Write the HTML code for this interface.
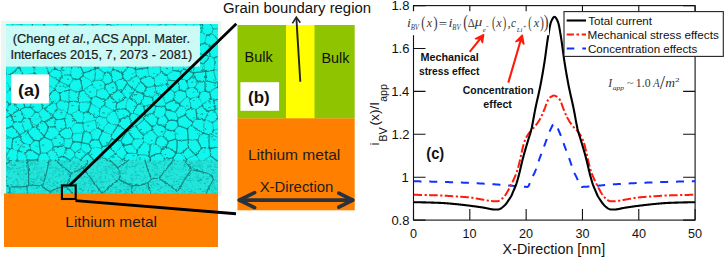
<!DOCTYPE html>
<html><head><meta charset="utf-8"><title>Grain boundary figure</title><style>
html,body{margin:0;padding:0;background:#fff;width:725px;height:258px;overflow:hidden}
svg{display:block}
text{font-family:"Liberation Sans",sans-serif}
.cal{stroke-width:0.22px}
</style></head><body>
<svg width="725" height="258" viewBox="0 0 725 258">
<rect width="725" height="258" fill="#fff"/>
<rect x="1" y="21" width="220.5" height="175" fill="#e9f7f3"/>
<rect x="6" y="24" width="212" height="170" fill="#12f7ed"/>
<defs><filter id="bl" x="-5%" y="-5%" width="110%" height="110%"><feTurbulence type="fractalNoise" baseFrequency="0.35" numOctaves="2" seed="3" result="n"/><feDisplacementMap in="SourceGraphic" in2="n" scale="2.6" xChannelSelector="R" yChannelSelector="G" result="d"/><feGaussianBlur in="d" stdDeviation="0.4"/></filter></defs>
<rect x="6" y="160" width="212" height="34" fill="#22e6dc"/>
<clipPath id="mc"><rect x="6" y="24" width="212" height="170"/></clipPath><g clip-path="url(#mc)"><g filter="url(#bl)" fill="none" stroke-linecap="round">
<path d="M103.4,186.9h0.8M192.0,167.6h0.8M61.5,181.0h0.8M200.2,179.6h0.8M155.2,163.3h0.8M187.2,180.6h0.8M57.6,182.4h0.8M52.7,183.5h0.8M195.3,173.7h0.8M75.3,186.0h0.8M132.0,178.7h0.8M29.7,193.6h0.8M64.9,161.6h0.8M64.0,165.1h0.8M61.0,160.9h0.8M72.4,164.1h0.8M86.1,165.3h0.8M40.6,179.9h0.8M158.2,163.4h0.8M213.2,176.7h0.8M18.3,168.3h0.8M205.9,179.7h0.8M173.4,193.2h0.8M26.6,171.5h0.8M160.5,188.4h0.8M80.0,186.8h0.8M136.2,164.3h0.8M81.4,178.7h0.8M58.6,170.6h0.8M169.4,180.5h0.8M203.3,191.4h0.8M18.3,174.4h0.8M78.4,163.4h0.8M209.9,168.2h0.8M30.3,173.9h0.8M81.0,192.6h0.8M9.8,189.0h0.8M34.9,183.1h0.8M119.2,176.2h0.8M182.2,179.3h0.8M122.2,185.4h0.8M188.9,170.4h0.8M129.1,166.8h0.8M90.6,184.5h0.8M178.2,172.5h0.8M118.4,192.0h0.8M140.0,171.0h0.8M201.3,179.6h0.8M155.8,174.1h0.8M127.6,189.8h0.8M197.8,180.6h0.8M154.2,171.4h0.8M154.6,175.2h0.8M73.0,161.6h0.8M28.1,174.3h0.8M168.0,190.3h0.8M10.1,191.9h0.8M152.6,184.1h0.8M61.3,191.7h0.8M68.1,174.1h0.8M138.4,175.4h0.8M109.1,185.0h0.8M27.8,169.6h0.8M209.1,165.9h0.8M74.0,168.7h0.8M77.7,172.4h0.8M215.3,177.5h0.8M210.2,166.0h0.8M176.6,181.3h0.8M150.6,185.2h0.8M194.4,165.0h0.8M133.1,166.4h0.8M161.6,175.5h0.8M205.6,186.0h0.8M150.1,188.8h0.8M80.8,181.8h0.8M113.2,164.5h0.8M155.5,192.3h0.8M33.4,178.6h0.8M77.1,166.8h0.8M89.5,166.1h0.8M190.5,163.1h0.8M129.8,163.4h0.8M20.5,189.3h0.8M93.2,183.8h0.8M216.5,180.4h0.8M197.9,181.0h0.8M10.8,178.0h0.8M135.0,187.9h0.8M24.4,184.8h0.8M90.6,186.7h0.8M170.5,179.0h0.8M120.5,190.7h0.8M53.9,185.1h0.8M189.5,162.5h0.8M216.8,185.2h0.8M135.7,171.4h0.8M163.4,160.7h0.8M55.8,171.2h0.8M64.1,184.6h0.8M106.8,170.1h0.8M170.8,163.8h0.8M50.4,186.3h0.8M41.9,180.3h0.8M139.7,188.8h0.8M108.6,166.4h0.8M156.6,186.0h0.8M124.1,170.3h0.8M200.8,160.3h0.8M36.9,183.9h0.8M75.9,184.7h0.8M58.4,192.0h0.8M15.6,179.7h0.8M23.8,184.1h0.8M98.4,164.8h0.8M165.3,164.6h0.8M59.7,170.6h0.8M69.9,193.1h0.8M202.8,177.6h0.8M48.4,179.4h0.8M56.2,190.7h0.8M16.1,180.3h0.8M46.7,177.7h0.8M13.3,172.0h0.8M217.6,179.7h0.8M75.3,185.0h0.8M197.3,165.8h0.8M117.9,177.2h0.8M39.8,176.0h0.8M181.6,186.7h0.8M35.1,179.8h0.8M139.3,190.6h0.8M101.6,184.5h0.8M85.4,186.3h0.8M53.9,189.9h0.8M136.7,192.0h0.8M212.6,190.2h0.8M179.8,179.0h0.8M211.7,184.7h0.8M54.5,171.5h0.8M166.1,186.2h0.8M208.5,185.7h0.8M199.4,170.7h0.8M23.0,178.5h0.8M190.9,191.7h0.8M126.0,173.4h0.8M207.0,161.5h0.8M43.1,187.3h0.8M38.6,168.0h0.8M120.2,183.9h0.8M126.6,169.1h0.8M77.1,175.0h0.8M102.0,169.1h0.8M89.7,173.5h0.8M17.8,182.9h0.8M30.6,184.6h0.8M36.3,187.0h0.8M112.4,176.8h0.8M167.9,165.6h0.8M45.7,184.2h0.8M44.6,191.3h0.8M199.7,166.7h0.8M51.3,177.4h0.8M92.0,191.9h0.8M156.9,184.5h0.8M159.8,191.5h0.8M202.1,167.2h0.8M50.0,164.4h0.8M63.2,161.0h0.8M200.1,180.0h0.8M80.5,170.1h0.8M155.3,165.6h0.8M116.5,189.3h0.8M52.7,191.7h0.8M211.3,169.5h0.8M72.2,174.3h0.8M74.2,168.3h0.8M103.6,187.5h0.8M171.3,166.1h0.8M112.0,170.5h0.8M105.9,166.9h0.8M65.7,189.7h0.8M82.0,191.0h0.8M129.8,167.5h0.8M197.8,185.3h0.8M179.9,171.3h0.8M69.1,176.1h0.8M91.6,191.9h0.8M23.7,189.1h0.8M9.8,188.5h0.8M16.0,178.8h0.8M170.8,188.0h0.8M111.3,190.3h0.8M76.2,184.0h0.8M142.3,183.6h0.8M212.6,170.3h0.8M21.8,174.5h0.8M189.2,161.4h0.8M207.0,189.8h0.8M9.9,163.8h0.8M200.0,183.4h0.8M115.8,192.2h0.8M82.7,174.0h0.8M149.7,160.7h0.8M95.2,183.9h0.8M47.7,165.2h0.8M60.1,168.8h0.8M80.6,177.2h0.8M79.6,171.0h0.8M117.8,171.8h0.8M189.1,188.1h0.8M208.6,176.0h0.8M67.2,162.0h0.8M131.7,184.9h0.8M163.6,165.6h0.8M207.5,187.9h0.8M177.3,187.5h0.8M157.7,189.5h0.8M46.7,189.2h0.8M44.2,187.5h0.8M193.1,168.6h0.8M216.8,181.6h0.8M190.0,180.7h0.8M42.2,176.5h0.8M114.6,187.9h0.8M72.0,163.0h0.8M102.8,191.8h0.8M115.5,167.7h0.8M6.0,177.5h0.8M28.5,171.6h0.8M207.1,167.0h0.8M49.7,162.7h0.8M72.0,190.1h0.8M172.9,183.9h0.8M192.3,167.2h0.8M183.7,185.6h0.8M205.2,190.8h0.8M191.1,190.3h0.8M168.8,191.0h0.8M131.5,192.3h0.8M139.4,169.0h0.8M67.5,181.9h0.8M150.7,163.9h0.8M152.1,181.3h0.8M19.5,188.1h0.8M100.7,162.5h0.8M190.4,164.3h0.8M89.4,168.1h0.8M40.4,179.5h0.8M33.6,161.7h0.8M39.5,182.9h0.8M49.4,182.4h0.8M214.6,180.5h0.8M69.9,167.9h0.8M49.1,162.2h0.8M69.5,181.7h0.8M80.2,189.1h0.8M9.5,190.5h0.8M112.0,184.4h0.8M36.7,167.2h0.8M145.4,178.3h0.8M202.1,172.6h0.8M74.5,182.5h0.8M160.5,161.6h0.8M114.0,165.4h0.8M76.7,176.9h0.8M58.7,169.6h0.8M115.9,189.5h0.8M60.7,176.4h0.8M190.9,172.5h0.8M11.2,164.4h0.8M157.0,183.6h0.8M86.5,177.3h0.8M119.5,186.0h0.8M99.5,181.9h0.8M85.5,167.2h0.8M126.8,165.7h0.8M166.2,176.8h0.8M142.5,167.5h0.8M39.7,186.3h0.8M186.7,190.3h0.8M182.1,169.1h0.8M109.1,193.3h0.8M127.5,189.4h0.8M34.0,169.6h0.8M27.0,192.6h0.8M75.3,166.5h0.8M188.6,169.6h0.8M123.3,173.2h0.8M92.1,181.2h0.8M41.3,191.8h0.8M123.7,193.4h0.8M97.4,172.7h0.8M200.8,168.5h0.8M54.6,160.9h0.8M181.8,166.5h0.8M62.8,173.0h0.8M34.1,181.5h0.8M30.9,181.0h0.8M27.7,161.8h0.8M119.8,192.0h0.8M144.7,161.9h0.8M10.1,169.5h0.8M61.4,163.3h0.8M214.4,172.6h0.8M213.7,166.4h0.8M158.4,162.4h0.8M37.3,174.6h0.8M165.5,177.1h0.8M127.9,187.8h0.8M210.5,186.9h0.8M114.9,168.8h0.8M152.8,164.7h0.8M208.2,186.0h0.8M153.9,185.3h0.8M104.9,190.7h0.8M112.3,167.7h0.8M26.5,192.6h0.8M37.8,175.9h0.8M213.4,166.7h0.8M213.1,170.2h0.8M156.1,166.0h0.8M75.1,188.7h0.8M101.7,192.4h0.8M82.3,190.8h0.8M75.5,187.1h0.8M192.1,162.6h0.8M175.6,191.6h0.8M127.6,185.0h0.8M110.3,164.2h0.8M39.7,173.2h0.8M188.0,187.8h0.8M96.7,193.6h0.8M173.2,181.2h0.8M78.7,164.1h0.8M126.4,184.0h0.8M48.6,162.4h0.8M96.9,185.1h0.8M49.6,181.5h0.8M106.5,163.8h0.8M181.5,189.4h0.8M15.0,165.2h0.8M125.7,167.0h0.8M158.6,175.5h0.8M98.7,190.4h0.8M97.9,175.3h0.8M8.1,167.2h0.8M156.3,193.5h0.8M118.2,166.3h0.8M94.7,191.3h0.8M99.5,187.8h0.8M98.9,179.0h0.8M31.2,169.7h0.8M218.0,174.1h0.8M83.2,180.6h0.8M148.9,162.6h0.8M184.0,177.5h0.8M50.8,192.3h0.8M100.3,179.8h0.8M33.3,181.6h0.8M126.3,167.7h0.8M24.2,170.8h0.8M196.6,171.7h0.8M195.2,183.6h0.8M53.3,170.7h0.8M8.3,178.9h0.8M7.7,188.2h0.8M74.0,192.5h0.8M162.9,170.3h0.8M90.0,181.5h0.8M100.3,178.0h0.8M60.9,176.6h0.8M159.8,177.2h0.8M88.0,181.9h0.8M157.2,189.7h0.8M67.4,189.4h0.8M120.8,180.2h0.8M37.5,191.5h0.8M163.4,169.6h0.8M188.7,170.2h0.8M92.1,165.5h0.8M109.5,174.3h0.8M211.0,161.0h0.8M142.9,167.7h0.8M91.6,179.2h0.8M163.5,181.5h0.8M113.9,173.1h0.8M110.3,188.4h0.8M36.1,169.1h0.8M69.1,175.0h0.8M92.0,177.3h0.8M28.9,183.5h0.8M35.0,167.8h0.8M137.7,187.2h0.8M193.8,165.0h0.8M114.9,175.5h0.8M32.6,169.9h0.8M91.8,190.9h0.8M202.0,193.5h0.8M152.1,162.6h0.8M125.5,174.0h0.8M174.9,191.0h0.8M23.0,167.2h0.8M64.4,184.4h0.8M211.6,161.7h0.8M202.7,173.3h0.8M51.8,167.2h0.8M182.8,169.1h0.8M191.7,164.3h0.8M136.1,178.6h0.8M74.6,171.4h0.8M176.9,175.3h0.8M25.0,174.0h0.8M87.5,166.4h0.8M147.7,161.9h0.8M6.8,166.5h0.8M124.7,172.5h0.8M200.9,183.8h0.8M51.2,160.2h0.8M146.9,187.5h0.8M112.6,171.6h0.8M106.7,171.8h0.8M34.4,165.9h0.8M130.9,175.1h0.8M189.7,178.6h0.8M12.4,189.9h0.8M170.1,184.3h0.8M79.4,183.5h0.8M167.4,177.0h0.8M209.3,176.2h0.8M95.7,181.7h0.8M182.1,192.2h0.8M32.7,179.5h0.8M102.5,182.2h0.8M108.1,166.7h0.8M125.6,183.2h0.8M69.2,176.8h0.8M69.1,161.6h0.8M75.1,174.9h0.8M143.2,178.9h0.8M57.6,168.7h0.8M151.1,169.9h0.8M189.1,176.3h0.8M117.4,172.0h0.8M77.6,174.3h0.8M72.8,181.4h0.8M20.7,170.5h0.8M177.4,161.4h0.8M84.4,164.3h0.8M30.2,165.4h0.8M198.9,164.1h0.8M182.4,190.4h0.8M109.0,167.8h0.8M115.2,191.8h0.8M197.7,161.2h0.8M45.5,188.8h0.8M134.0,190.3h0.8M115.6,172.3h0.8M100.7,171.5h0.8M136.7,175.2h0.8M37.3,185.6h0.8M27.3,182.0h0.8M176.2,181.4h0.8M189.6,173.5h0.8M104.9,192.9h0.8M27.1,173.1h0.8M170.0,186.0h0.8M170.6,166.9h0.8M210.7,160.3h0.8M49.1,178.6h0.8M150.8,185.2h0.8M6.9,167.1h0.8M14.5,165.3h0.8M33.2,193.0h0.8M135.5,188.2h0.8M51.6,186.2h0.8M53.3,182.2h0.8M128.8,166.4h0.8M41.7,188.2h0.8M103.4,174.2h0.8M137.1,175.8h0.8M207.9,172.2h0.8M39.5,172.7h0.8M174.9,167.6h0.8M106.7,173.7h0.8M82.6,168.9h0.8M39.9,171.4h0.8M99.2,183.7h0.8M184.1,178.3h0.8M33.2,189.0h0.8M155.4,167.9h0.8M82.8,186.4h0.8M204.1,172.1h0.8M196.3,162.1h0.8M211.4,172.7h0.8M96.2,166.6h0.8M10.7,184.8h0.8M43.0,181.4h0.8M138.4,186.9h0.8M103.4,166.7h0.8M205.8,173.2h0.8M92.7,169.5h0.8M89.9,179.6h0.8M76.3,185.2h0.8M155.9,175.5h0.8M135.1,171.7h0.8M120.5,170.8h0.8M124.7,191.6h0.8M113.7,179.5h0.8M100.0,176.9h0.8M81.6,189.9h0.8M6.8,171.2h0.8M97.2,170.7h0.8M175.2,189.6h0.8M205.9,193.7h0.8M83.9,162.1h0.8M172.3,162.0h0.8M201.6,170.2h0.8M63.4,171.0h0.8M49.5,189.1h0.8M61.8,164.6h0.8M17.3,181.6h0.8M19.1,184.8h0.8M182.3,162.2h0.8M92.1,172.2h0.8M117.9,178.8h0.8M76.6,191.0h0.8M209.0,170.3h0.8M12.4,168.3h0.8M59.0,174.3h0.8M84.7,183.0h0.8M7.4,176.3h0.8M10.7,193.4h0.8M46.5,187.3h0.8M127.5,186.3h0.8M198.0,189.4h0.8M208.2,187.1h0.8M83.9,189.9h0.8M22.5,160.8h0.8M22.8,164.6h0.8M207.5,166.9h0.8M83.9,188.1h0.8M37.8,177.6h0.8M83.6,177.6h0.8M135.3,164.3h0.8M12.5,181.6h0.8M207.4,164.9h0.8M64.2,181.4h0.8M66.3,177.5h0.8M131.9,185.4h0.8M130.5,191.5h0.8M132.3,180.5h0.8M17.9,182.6h0.8M202.1,165.8h0.8M164.3,187.0h0.8M208.6,178.2h0.8M75.5,168.5h0.8M188.4,191.5h0.8M115.3,165.3h0.8M9.0,189.4h0.8M139.9,171.0h0.8M199.8,165.6h0.8M127.6,192.7h0.8M23.7,162.1h0.8M194.8,189.7h0.8M71.0,176.5h0.8M161.9,167.6h0.8M86.7,183.6h0.8M119.5,163.3h0.8M170.6,168.7h0.8M66.8,168.0h0.8M24.5,182.2h0.8M146.5,186.2h0.8M165.1,170.6h0.8M23.1,193.7h0.8M169.4,171.8h0.8M119.5,176.5h0.8M54.6,185.9h0.8M21.0,179.3h0.8M99.2,187.9h0.8M214.9,167.1h0.8M196.5,166.1h0.8M133.5,166.6h0.8M179.6,164.4h0.8M212.7,173.9h0.8M31.3,185.9h0.8M104.5,168.2h0.8M192.5,166.0h0.8M49.3,193.6h0.8M14.0,171.0h0.8M28.2,192.9h0.8M84.6,176.5h0.8M64.8,162.4h0.8M76.5,192.1h0.8M160.0,188.0h0.8M190.3,161.7h0.8M11.3,165.3h0.8M167.3,180.0h0.8M171.2,185.9h0.8M14.3,187.9h0.8M149.9,190.3h0.8M210.5,162.4h0.8M200.1,180.5h0.8M191.7,180.3h0.8M69.1,176.4h0.8M185.7,189.7h0.8M54.4,181.4h0.8M142.8,184.6h0.8M159.1,177.3h0.8M113.1,172.5h0.8M153.1,183.1h0.8M96.4,168.0h0.8M14.3,172.3h0.8M105.0,176.6h0.8M176.5,192.5h0.8M203.5,176.5h0.8M23.3,165.3h0.8M78.9,161.1h0.8M116.3,192.5h0.8M51.3,172.8h0.8M82.7,166.0h0.8M212.8,183.6h0.8M179.1,169.0h0.8M202.8,192.2h0.8M10.6,162.6h0.8M215.2,164.5h0.8M216.5,176.1h0.8M146.9,171.2h0.8M67.4,172.4h0.8M158.6,184.5h0.8M68.2,183.8h0.8M62.6,167.4h0.8M13.0,186.9h0.8M167.8,167.8h0.8M38.0,182.5h0.8M217.2,190.5h0.8M55.6,181.5h0.8M137.7,163.9h0.8M88.1,187.9h0.8M198.2,177.4h0.8M114.1,172.8h0.8M196.4,180.8h0.8M32.3,162.8h0.8M22.1,161.4h0.8M91.4,163.5h0.8M57.8,160.1h0.8M70.9,165.5h0.8M142.7,189.9h0.8M16.1,185.7h0.8M109.0,174.7h0.8M28.4,180.1h0.8M85.3,171.9h0.8M44.0,160.8h0.8M117.6,175.8h0.8M171.3,185.3h0.8M145.8,185.3h0.8M89.6,179.9h0.8M109.8,191.7h0.8M17.7,185.7h0.8M133.0,185.9h0.8M29.0,165.9h0.8M80.7,167.1h0.8M149.3,187.7h0.8M77.1,183.5h0.8M125.5,192.8h0.8M187.6,164.6h0.8M132.0,160.9h0.8M28.8,181.2h0.8M65.7,168.0h0.8M115.3,160.6h0.8M130.1,189.1h0.8M50.6,165.8h0.8M143.5,166.5h0.8M206.5,160.1h0.8M121.5,170.9h0.8M213.5,182.9h0.8M56.3,191.2h0.8M73.3,163.1h0.8M123.4,163.9h0.8M25.8,180.1h0.8M206.1,170.0h0.8M106.9,188.6h0.8M87.8,190.8h0.8M142.8,190.0h0.8M27.0,180.1h0.8M129.4,183.2h0.8M147.9,188.5h0.8M63.4,183.8h0.8M53.1,180.5h0.8M88.4,180.7h0.8M71.5,166.4h0.8M62.9,174.2h0.8M171.8,170.0h0.8M34.0,184.2h0.8M113.2,187.6h0.8M117.1,173.4h0.8M120.1,191.9h0.8M190.0,164.9h0.8M214.1,185.2h0.8M156.3,193.5h0.8M26.5,177.5h0.8M136.3,183.7h0.8M28.1,170.0h0.8M194.5,177.0h0.8M84.1,176.6h0.8M53.5,183.1h0.8M114.4,180.1h0.8M85.3,165.3h0.8M45.3,179.4h0.8M184.6,166.3h0.8M71.6,185.9h0.8M79.8,189.4h0.8M184.6,191.8h0.8M114.7,187.3h0.8M161.6,187.0h0.8M160.1,176.0h0.8M30.3,193.0h0.8M19.2,167.9h0.8M131.8,163.1h0.8M192.0,163.6h0.8M60.7,181.8h0.8M14.9,165.1h0.8M118.4,182.5h0.8M114.4,178.4h0.8M159.6,161.7h0.8M141.8,163.3h0.8M112.6,168.8h0.8M182.0,179.0h0.8M185.7,174.0h0.8M68.1,179.5h0.8M41.5,186.6h0.8M94.5,174.2h0.8M113.0,176.9h0.8M40.7,184.3h0.8M201.7,164.3h0.8M161.0,180.6h0.8M92.6,191.7h0.8M92.3,190.5h0.8M28.4,166.9h0.8M145.1,183.7h0.8M184.8,186.2h0.8M170.5,170.0h0.8M143.1,177.4h0.8M37.1,176.4h0.8M27.3,187.1h0.8M101.6,182.3h0.8M154.1,184.7h0.8M156.2,174.2h0.8M22.7,169.8h0.8M6.3,183.9h0.8M133.0,160.2h0.8M177.1,184.3h0.8M121.3,190.5h0.8M79.5,188.5h0.8M189.8,174.1h0.8M96.8,180.2h0.8M31.1,178.5h0.8M154.8,164.6h0.8M63.4,179.3h0.8M60.9,165.6h0.8M133.9,179.0h0.8M100.0,165.7h0.8M53.1,192.2h0.8M112.7,176.2h0.8M98.9,177.5h0.8M72.6,193.1h0.8M100.3,181.7h0.8M131.6,175.8h0.8M111.3,190.6h0.8M9.8,189.4h0.8M76.0,178.8h0.8M120.6,183.3h0.8M175.0,179.4h0.8M131.5,179.5h0.8M171.3,190.7h0.8M136.0,165.0h0.8M134.5,175.4h0.8M165.5,184.4h0.8M31.3,163.7h0.8M215.3,188.0h0.8M115.3,165.3h0.8M36.7,160.7h0.8M95.3,181.2h0.8M202.1,191.4h0.8M54.2,164.1h0.8M214.2,187.7h0.8M61.7,168.0h0.8M217.4,189.0h0.8M197.5,175.1h0.8M53.1,184.9h0.8M14.4,163.0h0.8M19.3,169.2h0.8M217.8,165.1h0.8M184.7,166.0h0.8M125.3,190.2h0.8M32.6,182.1h0.8M111.5,186.1h0.8M185.1,162.0h0.8M67.5,186.8h0.8M171.9,169.4h0.8M32.5,172.5h0.8M19.4,171.7h0.8M27.3,172.9h0.8M210.0,165.8h0.8M8.7,167.8h0.8M201.9,171.3h0.8M176.8,188.5h0.8M6.1,166.6h0.8M131.9,185.9h0.8M215.8,173.1h0.8M50.5,185.6h0.8M199.6,188.3h0.8M132.9,188.1h0.8M6.8,177.0h0.8M200.4,167.4h0.8M60.5,175.3h0.8M125.1,167.0h0.8M133.3,169.5h0.8M41.5,178.8h0.8M124.4,162.2h0.8M16.3,160.2h0.8M126.5,188.8h0.8M8.8,191.8h0.8M92.3,172.2h0.8M61.6,161.7h0.8M191.9,166.9h0.8M167.3,169.2h0.8M134.8,190.3h0.8M42.6,178.0h0.8M149.4,173.5h0.8M27.8,177.1h0.8M127.0,189.7h0.8M109.1,181.7h0.8M185.0,174.8h0.8M57.3,183.2h0.8M74.4,187.1h0.8M110.9,167.1h0.8M68.7,181.6h0.8M115.4,186.7h0.8M56.6,183.4h0.8M172.5,185.4h0.8M149.4,187.9h0.8M21.7,193.8h0.8M198.4,167.1h0.8M79.0,177.5h0.8M134.4,166.7h0.8M90.5,192.4h0.8M101.4,172.4h0.8M97.6,162.8h0.8M132.9,183.6h0.8M134.2,193.9h0.8M56.0,168.9h0.8M81.5,167.3h0.8M189.4,174.8h0.8M112.8,165.6h0.8M79.3,176.7h0.8M110.6,169.5h0.8M146.1,183.4h0.8M23.9,170.1h0.8M78.8,168.7h0.8M46.0,182.6h0.8M157.1,166.8h0.8M161.1,177.4h0.8M134.3,189.1h0.8M209.3,175.4h0.8M81.5,178.7h0.8M76.1,184.3h0.8M10.9,193.6h0.8M178.2,179.7h0.8M103.6,170.6h0.8M135.2,166.8h0.8M110.4,166.1h0.8M65.5,181.0h0.8M94.2,191.0h0.8M123.7,183.6h0.8M121.1,181.6h0.8M145.7,192.7h0.8M99.5,172.0h0.8M42.7,190.4h0.8M152.2,167.8h0.8M212.4,191.6h0.8M130.7,187.9h0.8M97.1,170.1h0.8M24.0,170.1h0.8M200.1,179.4h0.8M74.8,180.6h0.8M79.7,185.0h0.8M38.8,187.4h0.8M75.5,170.4h0.8M35.4,188.0h0.8M37.5,170.1h0.8M81.1,177.0h0.8M92.5,162.0h0.8M215.2,189.6h0.8M66.5,184.3h0.8M21.1,178.9h0.8M33.3,174.6h0.8M207.6,179.1h0.8M8.5,173.1h0.8M47.9,188.9h0.8M210.7,167.1h0.8M189.7,178.8h0.8M186.2,184.4h0.8M22.8,162.4h0.8M206.6,176.8h0.8M10.7,177.8h0.8M18.4,193.8h0.8M64.1,188.0h0.8M147.9,165.9h0.8M81.7,193.9h0.8M62.8,174.5h0.8M105.3,177.3h0.8M9.7,193.5h0.8M60.9,191.5h0.8M25.9,188.6h0.8M188.4,172.7h0.8M194.0,168.6h0.8M215.2,192.8h0.8M198.2,181.6h0.8M183.9,165.8h0.8M15.9,184.2h0.8M170.0,176.0h0.8M207.1,182.0h0.8M69.0,170.4h0.8M164.9,175.2h0.8M201.1,178.7h0.8M91.1,193.7h0.8M188.3,180.6h0.8M71.4,180.1h0.8M21.0,186.3h0.8M91.6,182.7h0.8M74.3,183.8h0.8M216.1,167.7h0.8M32.9,160.3h0.8M135.2,186.1h0.8M86.9,171.0h0.8M42.7,180.0h0.8M167.4,160.6h0.8M43.3,167.2h0.8M20.7,193.6h0.8M94.1,184.5h0.8M143.6,166.8h0.8M173.4,173.0h0.8M42.4,180.4h0.8M85.1,183.9h0.8M102.0,163.0h0.8M165.4,162.5h0.8M165.3,163.5h0.8M9.3,171.4h0.8M190.2,191.8h0.8M23.0,186.2h0.8M136.3,174.2h0.8M95.5,179.0h0.8M52.1,191.5h0.8M185.3,167.1h0.8M17.4,170.6h0.8M51.6,168.1h0.8M147.6,162.5h0.8M135.3,165.5h0.8M64.1,182.1h0.8M62.0,167.6h0.8M65.5,169.5h0.8M25.5,174.0h0.8M12.5,193.1h0.8M137.1,166.4h0.8M66.6,160.5h0.8M71.4,192.8h0.8M213.9,189.1h0.8M212.7,170.3h0.8M207.2,178.9h0.8M157.0,171.2h0.8M173.8,181.2h0.8M82.0,167.3h0.8M151.7,171.1h0.8M152.1,162.8h0.8M116.2,191.1h0.8M79.7,172.4h0.8M9.5,168.9h0.8M24.9,183.2h0.8M131.3,165.8h0.8M52.0,178.3h0.8M177.1,161.1h0.8M128.9,185.5h0.8M208.2,161.4h0.8M56.3,192.8h0.8M195.4,161.5h0.8M84.3,182.2h0.8M25.5,173.6h0.8M186.7,161.9h0.8M96.8,193.8h0.8M172.7,167.0h0.8M186.2,163.8h0.8M202.4,171.1h0.8M180.5,182.1h0.8M166.8,182.9h0.8M132.7,183.4h0.8M29.8,171.5h0.8M168.4,171.0h0.8M217.9,192.1h0.8M147.0,171.0h0.8M156.8,168.2h0.8M132.1,164.4h0.8M194.0,192.1h0.8M77.1,171.4h0.8M76.7,166.7h0.8M6.2,165.0h0.8M196.7,176.8h0.8M23.6,173.2h0.8M101.9,186.2h0.8M214.5,192.9h0.8M7.0,169.6h0.8M205.0,189.7h0.8M65.6,184.6h0.8M8.1,187.1h0.8M87.2,177.8h0.8M21.5,167.3h0.8M181.5,182.6h0.8M191.5,182.7h0.8M121.9,173.4h0.8M157.9,174.8h0.8M122.5,173.3h0.8M55.8,190.2h0.8M7.6,183.8h0.8M110.7,161.5h0.8M64.5,192.0h0.8M139.5,175.5h0.8M142.2,180.4h0.8M87.0,164.3h0.8M152.6,187.6h0.8M195.9,163.1h0.8M77.6,177.8h0.8M78.4,164.7h0.8M59.2,192.3h0.8M176.2,160.4h0.8M76.2,177.6h0.8M111.1,174.9h0.8M27.9,185.9h0.8M14.9,165.8h0.8M58.6,177.1h0.8M176.2,181.1h0.8M191.7,191.8h0.8M111.3,168.6h0.8M124.8,183.7h0.8M153.4,174.8h0.8M58.9,162.5h0.8M35.1,161.4h0.8M168.8,160.1h0.8M150.6,175.8h0.8M199.5,162.3h0.8M107.9,179.1h0.8M131.3,166.7h0.8M56.6,182.9h0.8M64.2,175.7h0.8M128.4,181.9h0.8M19.0,188.4h0.8M149.8,176.8h0.8M200.3,189.6h0.8M77.9,192.8h0.8M116.2,163.9h0.8M122.6,163.8h0.8M43.3,193.5h0.8M103.9,160.9h0.8M94.9,161.2h0.8M39.7,178.4h0.8M145.8,191.4h0.8M142.2,187.9h0.8M167.9,172.4h0.8M119.3,189.8h0.8M78.7,188.6h0.8M201.9,169.4h0.8M161.5,163.8h0.8M128.6,192.1h0.8M25.6,174.6h0.8M36.7,178.7h0.8M184.3,164.2h0.8M55.0,177.0h0.8M35.3,164.2h0.8M63.7,162.0h0.8M6.5,160.6h0.8M214.9,179.3h0.8M101.8,182.6h0.8M126.0,186.9h0.8M55.0,167.4h0.8M212.5,193.6h0.8M77.1,165.6h0.8M199.3,189.0h0.8M131.1,178.3h0.8M78.9,172.1h0.8M30.8,173.2h0.8M145.2,181.3h0.8M188.3,165.1h0.8M130.4,178.3h0.8M33.4,193.7h0.8M23.4,176.2h0.8M156.1,163.8h0.8M35.8,180.6h0.8M110.1,192.3h0.8M202.9,172.5h0.8M153.3,177.2h0.8M119.4,191.4h0.8M14.4,181.3h0.8M55.5,168.6h0.8M190.2,164.4h0.8M156.4,180.6h0.8M103.9,194.0h0.8M149.5,176.0h0.8M111.4,174.1h0.8M158.4,190.7h0.8M100.9,187.3h0.8M28.6,175.4h0.8M183.1,167.1h0.8M11.0,185.2h0.8M118.8,192.2h0.8M171.6,175.7h0.8M217.8,191.8h0.8M179.6,177.0h0.8M120.2,184.5h0.8M83.0,170.7h0.8M42.1,182.9h0.8M75.7,180.2h0.8M143.0,171.9h0.8M42.8,180.8h0.8M145.5,188.2h0.8M83.9,183.8h0.8M102.3,191.1h0.8M153.8,161.2h0.8M74.1,162.7h0.8M7.5,168.0h0.8M14.0,186.7h0.8M213.0,171.1h0.8M151.9,191.2h0.8M54.7,192.7h0.8M110.2,188.8h0.8M29.6,174.7h0.8M32.7,182.0h0.8M196.8,163.9h0.8M168.0,164.3h0.8M122.4,165.6h0.8M148.5,160.1h0.8M153.7,165.5h0.8M184.1,191.8h0.8M148.9,166.5h0.8M191.7,177.8h0.8M31.3,181.2h0.8M182.4,171.8h0.8M164.3,192.5h0.8M161.8,173.9h0.8M87.0,164.4h0.8M161.0,186.4h0.8M163.8,165.3h0.8M188.0,178.5h0.8M94.2,184.5h0.8M106.3,181.9h0.8M69.4,175.1h0.8M175.0,184.9h0.8M68.2,186.3h0.8M205.0,191.1h0.8M124.3,188.9h0.8M155.1,174.1h0.8M19.5,162.2h0.8M75.6,185.9h0.8M194.9,192.9h0.8M121.5,173.7h0.8M22.7,180.3h0.8M191.0,167.4h0.8M211.4,181.7h0.8M17.5,179.1h0.8M55.6,167.4h0.8M99.6,188.8h0.8M103.4,181.4h0.8M49.1,173.6h0.8M49.3,168.3h0.8M103.0,187.5h0.8M79.1,171.5h0.8M211.1,183.8h0.8M30.4,178.9h0.8M104.2,178.1h0.8M188.9,193.1h0.8M76.8,163.7h0.8M6.9,168.1h0.8M159.1,162.3h0.8M168.9,166.2h0.8M96.1,182.5h0.8M184.2,177.2h0.8M91.2,174.2h0.8M40.6,180.1h0.8M66.5,182.1h0.8M8.2,177.8h0.8M171.7,162.6h0.8M161.3,161.4h0.8M172.3,191.5h0.8M91.8,188.5h0.8M130.5,162.3h0.8M173.4,178.5h0.8M176.0,169.6h0.8M124.5,193.5h0.8M153.5,163.4h0.8M106.6,192.7h0.8M57.1,165.8h0.8M217.8,187.3h0.8M26.2,167.4h0.8M204.7,182.8h0.8M144.0,192.3h0.8M13.0,193.0h0.8M176.0,174.4h0.8M38.4,161.2h0.8M36.0,177.7h0.8M160.1,188.2h0.8M16.0,160.6h0.8M211.7,163.9h0.8M211.3,189.6h0.8M80.5,166.5h0.8M81.3,169.7h0.8M89.4,183.6h0.8M34.0,179.4h0.8M144.8,176.9h0.8M81.1,167.7h0.8M81.4,165.7h0.8M17.0,171.8h0.8M210.1,165.1h0.8M56.8,187.7h0.8M143.3,192.1h0.8M166.1,170.2h0.8M128.1,184.4h0.8M158.5,169.2h0.8M139.8,164.0h0.8M23.8,192.4h0.8M13.5,164.8h0.8M197.8,174.6h0.8M215.3,166.2h0.8M114.1,169.6h0.8M10.9,169.5h0.8M84.2,169.6h0.8M123.8,186.3h0.8M10.8,184.6h0.8M17.9,174.3h0.8M54.7,173.3h0.8M34.9,163.3h0.8M69.5,190.7h0.8M164.0,182.1h0.8M68.6,185.8h0.8M91.8,190.5h0.8M209.0,163.2h0.8M11.7,168.1h0.8M9.4,168.2h0.8M16.5,186.3h0.8M159.6,180.1h0.8M80.4,189.0h0.8M198.2,166.2h0.8M93.5,189.8h0.8M117.3,167.2h0.8M192.3,169.2h0.8M93.7,176.5h0.8M138.2,162.2h0.8M146.4,186.2h0.8M11.6,184.6h0.8M48.8,191.8h0.8M26.1,192.7h0.8M40.2,177.2h0.8M114.2,193.6h0.8M180.8,177.2h0.8M207.2,178.4h0.8M163.0,179.8h0.8M14.7,191.6h0.8M174.2,193.8h0.8M169.0,173.5h0.8M63.7,163.4h0.8M122.0,178.7h0.8M111.5,191.2h0.8M38.1,172.6h0.8M32.7,188.3h0.8M121.2,167.3h0.8M90.0,173.0h0.8M23.2,165.3h0.8M19.5,176.7h0.8M105.8,172.1h0.8M70.2,164.8h0.8M14.9,193.4h0.8M6.6,192.6h0.8M171.8,179.6h0.8M156.5,183.4h0.8M95.4,173.2h0.8M154.2,168.2h0.8M93.9,183.8h0.8M79.6,180.9h0.8M182.3,176.3h0.8M208.6,174.6h0.8M57.4,190.4h0.8M34.4,163.7h0.8M43.1,183.8h0.8M120.0,160.4h0.8M106.2,166.6h0.8M72.8,163.7h0.8M7.1,193.6h0.8M16.5,180.2h0.8M144.7,163.7h0.8M66.2,163.9h0.8M133.3,190.9h0.8M31.4,161.1h0.8M9.3,164.1h0.8M13.1,182.9h0.8M185.6,170.5h0.8M44.5,173.1h0.8M60.7,165.2h0.8M153.5,193.4h0.8M196.0,166.8h0.8M212.1,185.8h0.8M111.9,165.4h0.8M213.1,186.6h0.8M131.2,181.2h0.8M199.4,165.2h0.8M52.5,174.0h0.8M192.1,186.2h0.8M36.5,188.2h0.8M17.2,173.1h0.8M57.9,189.1h0.8M23.1,186.6h0.8M32.2,182.4h0.8M94.9,185.2h0.8M90.2,181.7h0.8M178.5,182.0h0.8M40.7,168.6h0.8M132.4,192.8h0.8M17.9,160.9h0.8M37.8,163.9h0.8M105.6,173.0h0.8M47.1,182.7h0.8M153.3,181.8h0.8M74.6,165.1h0.8M199.6,180.2h0.8M56.4,176.3h0.8M184.8,164.4h0.8M43.1,172.1h0.8M12.5,168.0h0.8M31.7,184.6h0.8M109.8,180.3h0.8M126.8,184.6h0.8M165.0,172.2h0.8M58.1,173.9h0.8M126.9,166.6h0.8M127.8,190.6h0.8M204.1,183.7h0.8M128.6,189.4h0.8M92.2,181.1h0.8M82.3,184.5h0.8M204.5,183.6h0.8M192.5,180.2h0.8M8.8,169.5h0.8M213.9,173.0h0.8M94.6,184.2h0.8M68.1,194.0h0.8M92.9,187.6h0.8M60.6,172.3h0.8M46.9,175.7h0.8M68.0,173.7h0.8M13.1,165.6h0.8M69.8,168.1h0.8M100.7,174.2h0.8M124.9,180.7h0.8M132.1,192.9h0.8M71.0,182.2h0.8M116.4,187.6h0.8M167.6,176.6h0.8M115.9,161.3h0.8M64.0,183.7h0.8M21.2,162.3h0.8M122.7,182.0h0.8M196.5,177.9h0.8M174.4,164.4h0.8M199.9,178.1h0.8M104.9,181.4h0.8M36.8,187.0h0.8M204.2,162.8h0.8M117.0,182.1h0.8M105.5,168.3h0.8M69.9,176.4h0.8M29.8,163.9h0.8M215.5,188.2h0.8M90.8,183.6h0.8M16.4,168.4h0.8M108.6,164.6h0.8M121.0,187.1h0.8M15.1,164.6h0.8M17.3,185.0h0.8M89.9,185.3h0.8M17.8,160.4h0.8M150.6,182.3h0.8M101.8,191.0h0.8M31.0,187.2h0.8M58.6,162.4h0.8M62.1,170.7h0.8M134.3,174.3h0.8M197.7,179.1h0.8M190.4,173.2h0.8M199.8,189.1h0.8M208.4,166.9h0.8M37.1,188.4h0.8M194.8,187.6h0.8M70.0,161.5h0.8M174.2,182.3h0.8M112.7,189.2h0.8M18.0,173.6h0.8M37.3,164.6h0.8M14.4,188.4h0.8M91.5,176.2h0.8M60.9,181.3h0.8M16.5,168.6h0.8M105.2,170.6h0.8M31.2,163.1h0.8M167.9,187.6h0.8M83.3,184.8h0.8M30.1,183.0h0.8M41.8,184.7h0.8M197.9,181.7h0.8M152.3,170.3h0.8M183.9,182.9h0.8M66.3,186.7h0.8M187.3,189.5h0.8M84.4,184.2h0.8M53.0,166.5h0.8M49.5,167.9h0.8M141.7,171.0h0.8M18.9,174.9h0.8M149.2,174.5h0.8M33.9,168.8h0.8M27.5,184.7h0.8M123.8,189.9h0.8M118.8,171.9h0.8M132.7,162.6h0.8M211.7,175.4h0.8M122.3,161.2h0.8M20.7,188.0h0.8M214.7,180.3h0.8M156.1,186.7h0.8M119.8,161.8h0.8M97.6,191.4h0.8M42.0,170.7h0.8M59.3,185.1h0.8M160.3,172.7h0.8M87.8,192.3h0.8M126.9,163.8h0.8M100.5,176.2h0.8M60.3,187.9h0.8M7.1,182.5h0.8M186.3,178.8h0.8M62.5,171.7h0.8M214.2,162.3h0.8M30.9,163.1h0.8M166.4,193.2h0.8M108.2,166.6h0.8M128.0,192.8h0.8M71.8,189.2h0.8M40.5,172.4h0.8M87.7,190.4h0.8M66.0,181.0h0.8M182.9,184.1h0.8M29.1,160.7h0.8M202.8,171.3h0.8M118.4,189.8h0.8M205.3,174.5h0.8M19.6,167.4h0.8M123.0,180.7h0.8M47.3,167.0h0.8M147.1,177.0h0.8M82.1,190.4h0.8M211.0,190.7h0.8M91.7,190.9h0.8M177.0,184.0h0.8M131.6,174.1h0.8M174.3,163.8h0.8M192.8,171.8h0.8M147.1,184.1h0.8M155.8,173.1h0.8M126.0,193.0h0.8M179.8,185.3h0.8M51.4,160.2h0.8M199.1,189.6h0.8M105.5,169.7h0.8M36.6,173.3h0.8M159.3,176.5h0.8M60.6,184.4h0.8M124.8,179.7h0.8M211.2,187.4h0.8M189.2,180.5h0.8M49.2,180.3h0.8M165.2,185.5h0.8M48.2,184.8h0.8M139.6,178.7h0.8M29.7,160.9h0.8M58.1,190.3h0.8M78.0,169.0h0.8M141.4,180.9h0.8M120.1,189.2h0.8M215.4,169.9h0.8M194.3,192.8h0.8M200.1,180.6h0.8M67.1,174.3h0.8M125.7,168.8h0.8M67.1,183.5h0.8M147.1,169.4h0.8" stroke="#139a93" stroke-width="0.9" opacity="0.4"/>
<path d="M32.4,24.0Q32.4,27.1 32.1,30.2M109.8,95.7Q113.3,99.3 116.8,102.8M55.1,126.7Q51.6,126.5 48.2,127.6M192.7,121.9Q188.3,119.2 185.3,114.9M211.0,98.8Q210.6,95.5 209.6,92.4M10.5,74.4Q15.6,71.2 18.9,66.2M102.3,146.8Q100.8,143.2 98.7,139.9M73.6,141.6Q71.3,144.6 70.3,148.3M37.9,51.8Q44.7,50.6 51.6,49.5M13.1,138.8Q16.6,137.5 19.7,135.3M133.7,138.9Q130.7,134.9 127.7,131.0M132.0,28.0Q131.8,27.6 131.6,27.3M95.2,53.3Q98.0,49.0 98.3,43.9M174.1,35.0Q169.6,35.1 165.0,35.2M109.9,95.2Q114.0,93.5 117.2,90.4M83.5,90.2Q82.9,90.1 82.4,90.1M153.3,113.5Q149.3,114.2 145.5,115.7M205.0,42.8Q202.1,44.2 199.0,44.6M104.7,87.9Q104.7,86.2 105.4,84.7M133.6,42.6Q133.3,45.2 131.9,47.3M215.2,109.1Q214.6,109.7 214.3,110.3M80.3,66.6Q76.8,66.6 73.4,66.0M81.2,161.0Q81.3,160.4 81.0,159.8M66.3,127.5Q62.6,129.3 59.6,132.0M19.2,109.8Q16.5,106.3 13.5,102.8M125.2,97.3Q122.1,101.6 116.8,102.8M137.7,104.2Q135.4,108.4 133.2,112.7M73.4,66.0Q72.7,61.7 71.9,57.5M11.8,148.3Q11.9,143.5 13.1,138.8M134.9,90.7Q139.2,92.4 143.4,94.2M108.7,51.2Q110.6,50.4 112.5,49.6M125.9,161.0Q124.6,160.4 123.5,159.4M97.9,68.0Q96.7,68.3 95.4,68.5M6.0,128.5Q9.1,127.9 11.8,126.3M168.2,141.4Q165.5,138.5 162.8,135.7M217.3,160.9Q213.8,158.5 210.7,155.7M15.9,161.0Q16.5,160.5 17.1,160.1M59.6,93.2Q64.2,91.0 69.3,90.0M23.7,118.0Q22.6,120.1 21.1,122.0M41.0,153.3Q39.9,154.1 39.0,155.0M81.2,142.6Q77.5,141.6 73.6,141.6M8.4,45.9Q9.0,46.1 9.6,46.5M193.6,73.2Q193.7,73.9 193.4,74.6M95.6,161.0Q95.0,160.8 94.3,160.7M210.7,24.0Q212.1,26.2 213.2,28.6M127.0,131.1Q123.7,135.9 120.7,140.9M31.3,94.9Q29.7,90.0 26.9,85.7M48.6,95.4Q51.6,92.4 54.5,89.5M173.8,99.9Q176.2,102.4 179.4,103.7M55.9,119.4Q60.2,120.1 64.2,118.4M59.8,157.6Q61.4,156.2 63.4,156.3M44.3,137.0Q44.2,136.6 44.2,136.2M92.2,138.8Q95.3,140.1 98.7,139.9M132.9,126.6Q134.7,126.7 136.4,126.5M129.5,116.3Q129.8,115.0 130.5,113.8M102.3,146.8Q105.4,146.1 108.2,144.6M123.6,38.5Q122.1,40.5 121.7,43.0M190.9,107.7Q189.0,109.1 186.7,109.8M99.9,108.6Q102.1,106.6 104.5,104.9M213.5,130.2Q212.4,132.3 211.0,134.1M210.0,148.4Q214.0,147.5 218.0,147.1M122.1,58.1Q123.5,58.9 124.8,59.8M176.8,30.6Q181.2,30.8 185.3,32.8M76.0,122.5Q73.7,118.5 71.3,114.5M122.1,58.1Q121.7,57.0 121.6,56.0M32.9,127.1Q31.1,122.9 29.9,118.6M217.8,83.5Q217.8,85.3 217.2,87.0M73.2,133.1Q72.3,135.6 71.6,138.1M86.8,153.9Q83.4,156.4 81.0,159.8M88.3,153.8Q91.2,157.3 94.3,160.7M121.7,43.0Q117.7,42.6 114.2,44.4M104.5,58.4Q101.1,63.1 97.9,68.0M112.6,81.6Q109.2,83.6 105.4,84.7M89.6,40.0Q87.1,42.6 84.9,45.5M143.7,135.4Q139.2,131.7 136.4,126.5M79.2,110.3Q79.0,106.5 78.7,102.7M180.5,71.8Q176.7,70.8 172.9,70.3M210.7,155.7Q210.3,152.1 210.0,148.4M111.1,38.4Q107.7,37.9 104.4,37.1M176.4,152.9Q176.1,153.0 175.9,153.2M104.9,58.3Q106.7,54.7 108.7,51.2M209.4,147.9Q208.8,141.4 209.2,134.8M187.3,129.0Q188.1,134.3 188.1,139.7M119.5,119.8Q124.2,117.2 129.5,116.3M162.6,95.1Q159.3,94.6 156.5,92.9M110.5,72.2Q107.7,72.8 104.8,73.0M22.1,52.8Q22.5,52.5 23.0,52.2M165.0,35.2Q166.0,40.1 167.1,45.1M175.9,153.2Q171.7,149.0 166.1,146.8M70.5,128.4Q68.4,127.9 66.3,127.5M199.9,93.0Q199.6,95.2 198.5,97.1M29.9,118.6Q26.8,118.1 23.7,118.0M60.5,70.4Q61.8,67.5 64.6,66.0M144.0,49.7Q140.5,45.6 139.9,40.2M6.0,28.9Q7.2,29.5 8.2,30.5M189.0,29.9Q189.5,29.8 189.9,29.9M201.6,31.9Q201.5,28.1 203.0,24.5M17.6,80.8Q19.3,80.5 21.0,80.6M48.2,127.6Q46.7,132.2 44.2,136.2M164.7,106.2Q160.2,106.5 155.8,106.3M176.9,140.2Q176.2,139.6 175.4,139.2M24.9,85.3Q22.6,83.3 21.0,80.6M91.2,148.3Q90.6,151.5 88.3,153.8M173.4,60.0Q172.3,61.2 171.6,62.7M180.9,153.1Q185.5,150.9 187.9,146.3M205.9,80.3Q211.5,82.6 217.6,83.3M73.0,78.7Q76.4,80.3 79.9,78.7M23.0,97.7Q20.5,96.3 17.9,94.9M128.2,37.5Q129.9,32.7 132.0,28.0M25.4,43.3Q25.1,48.0 23.0,52.2M69.3,90.0Q69.4,89.5 69.8,89.3M116.8,102.8Q115.9,106.2 116.1,109.7M196.1,109.5Q196.2,114.2 197.1,118.8M203.0,24.5Q203.4,24.3 203.7,24.0M89.3,143.9Q90.5,141.2 92.2,138.8M152.2,127.2Q148.5,122.9 144.0,119.6M104.8,100.5Q100.3,98.4 95.9,96.1M155.3,143.6Q156.0,139.9 157.8,136.6M128.2,37.5Q130.6,40.4 133.6,42.6M140.8,38.7Q140.4,39.5 139.9,40.2M196.8,139.9Q199.7,143.8 201.5,148.2M199.9,93.0Q197.7,89.9 194.6,87.6M201.5,148.2Q205.4,147.3 209.4,147.9M60.3,100.2Q60.5,96.6 59.6,93.2M64.2,118.4Q65.3,122.9 66.3,127.5M93.2,25.5Q92.5,24.8 92.0,24.0M84.9,59.7Q82.1,62.9 80.3,66.6M153.3,103.9Q152.9,100.7 152.6,97.5M88.3,153.8Q87.6,154.1 86.8,153.9M197.1,118.8Q200.7,119.3 204.2,120.1M57.9,161.0Q59.0,159.4 59.8,157.6M137.7,104.2Q138.9,103.9 140.3,103.8M21.0,80.6Q22.3,78.0 23.3,75.3M169.9,46.9Q168.5,45.9 167.1,45.1M117.7,31.9Q121.5,34.4 123.6,38.5M187.9,42.9Q191.5,41.4 195.4,41.3M59.4,81.4Q59.3,81.0 59.2,80.7M121.4,91.5Q124.9,87.6 127.3,83.0M140.8,38.7Q146.5,39.5 152.3,38.7M171.6,62.7Q166.7,64.2 161.5,63.8M168.4,53.4Q164.8,55.3 160.8,56.7M110.5,72.2Q111.9,76.8 112.6,81.6M79.6,32.0Q78.0,32.5 76.7,33.4M183.6,69.0Q188.8,70.5 193.6,73.2M92.6,81.7Q93.6,80.9 94.4,80.0M205.9,71.9Q209.8,70.8 213.7,70.1M95.4,68.6Q89.6,71.3 83.5,72.8M208.2,111.2Q204.4,109.3 202.2,105.6M205.3,90.9Q205.2,86.3 204.7,81.6M186.9,49.7Q187.6,46.4 187.9,42.9M10.3,89.4Q13.1,84.4 17.6,80.8M148.8,49.4Q149.9,43.8 152.3,38.7M23.6,30.7Q27.9,31.4 32.1,30.2M37.7,32.6Q36.0,32.1 34.2,32.4M204.7,81.6Q201.1,82.0 197.5,81.9M104.8,100.5Q105.4,102.7 104.5,104.9M125.1,48.8Q123.0,52.2 121.6,56.0M137.2,150.7Q140.1,145.7 144.2,141.6M109.8,95.7Q108.0,98.8 104.8,100.5M6.0,117.8Q8.1,116.6 10.1,115.3M152.3,38.7Q152.9,38.2 153.6,37.8M189.0,29.9Q187.3,31.5 185.3,32.8M215.2,109.1Q214.7,104.7 213.7,100.5M82.4,90.1Q82.0,84.2 79.9,78.7M9.1,59.5Q10.4,55.5 12.0,51.5M150.1,157.4Q154.7,153.4 160.8,153.4M167.0,75.2Q164.0,73.7 161.1,72.1M108.2,144.6Q111.6,149.1 115.5,153.2M137.1,153.2Q137.1,151.9 137.2,150.7M161.6,149.1Q164.0,148.3 166.1,146.8M209.9,45.9Q209.8,51.0 210.0,56.2M193.4,74.6Q195.4,78.3 197.5,81.9M112.1,138.8Q116.2,140.6 120.7,140.9M102.8,130.9Q100.2,135.2 98.7,139.9M218.0,57.1Q215.8,56.7 214.0,58.1M195.3,61.1Q199.3,62.6 203.3,64.0M52.9,116.6Q49.1,119.7 44.5,121.7M54.7,68.7Q54.4,65.8 54.6,63.0M42.7,108.7Q43.5,108.7 44.3,108.7M159.9,66.5Q160.9,65.3 161.5,63.8M96.3,117.8Q92.1,114.7 88.1,111.5M206.3,35.8Q209.1,34.9 211.6,33.4M179.7,105.0Q178.0,108.9 175.0,111.9M69.0,101.7Q73.5,100.9 78.1,101.9M168.3,120.5Q166.4,123.5 164.9,126.8M36.3,46.1Q37.1,48.8 37.6,51.6M125.7,108.9Q128.7,110.8 130.5,113.8M180.4,78.2Q183.5,80.1 187.0,81.1M102.8,130.9Q100.1,129.3 97.3,127.8M35.4,112.1Q33.4,109.0 30.1,107.2M154.1,36.7Q152.4,33.2 152.2,29.2M21.2,64.3Q20.0,65.1 18.9,66.0M153.6,53.3Q155.0,53.1 156.4,53.0M217.2,87.0Q217.6,87.6 218.0,88.0M63.4,156.3Q67.0,158.1 70.1,160.5M82.4,90.1Q81.0,91.1 79.5,91.7M145.5,115.7Q144.7,116.9 144.0,118.1M104.4,37.1Q103.1,40.4 100.6,43.0M139.6,57.3Q139.2,56.3 138.8,55.3M23.0,97.7Q27.2,96.5 31.3,94.9M183.7,62.4Q181.0,60.7 178.4,58.9M112.1,138.8Q109.8,141.4 108.2,144.6M94.3,160.7Q94.1,160.9 93.8,161.0M121.6,56.0Q117.2,52.5 112.5,49.6M160.8,153.4Q161.3,151.2 161.6,149.1M178.7,126.0Q177.8,123.6 177.2,121.1M169.0,89.6Q165.6,92.2 162.6,95.1M149.2,75.7Q144.1,75.9 140.5,79.3M15.4,34.6Q15.2,38.0 15.3,41.4M83.1,132.7Q82.7,137.6 81.4,142.4M133.6,42.6Q136.2,40.1 139.9,40.2M151.8,129.8Q151.8,128.5 152.2,127.2M104.5,58.4Q100.0,55.5 95.2,53.3M61.5,58.5Q61.2,57.4 62.1,56.6M51.1,30.9Q47.3,28.1 43.8,24.8M26.3,42.5Q28.1,42.3 29.8,42.1M127.7,131.0Q130.5,129.0 132.9,126.6M166.1,146.8Q167.5,144.2 168.2,141.4M52.9,116.6Q54.6,117.8 55.9,119.4M160.8,56.7Q158.3,55.2 156.4,53.0M179.4,103.7Q179.7,104.3 179.7,105.0M53.3,147.2Q58.3,146.0 63.5,146.3M143.9,106.4Q144.7,111.1 145.5,115.7M178.1,118.3Q177.6,119.6 177.2,121.1M35.6,74.6Q40.5,76.6 45.9,76.4M26.3,42.5Q25.8,42.8 25.4,43.3M155.8,106.3Q154.7,104.9 153.3,103.9M150.4,159.9Q150.1,158.7 150.1,157.4M210.0,56.2Q207.1,60.5 203.3,64.0M24.8,107.1Q27.4,107.9 30.1,107.2M210.0,56.2Q203.5,54.9 197.2,52.8M104.5,58.4Q104.7,58.3 104.9,58.3M21.1,122.0Q17.5,121.1 13.9,122.1M81.4,142.4Q85.3,143.8 89.3,143.9M43.3,38.9Q43.3,39.2 43.3,39.5M37.6,159.3Q32.3,160.6 26.9,159.8M175.4,139.2Q171.8,140.4 168.2,141.4M148.8,62.3Q151.4,57.9 153.6,53.3M24.8,107.1Q23.6,102.5 23.0,97.7M44.3,108.7Q48.8,106.3 52.4,102.6M185.3,114.9Q186.6,112.5 186.7,109.8M166.3,109.8Q170.7,110.5 175.0,111.9M114.7,82.5Q116.8,86.2 117.2,90.4M19.8,135.1Q16.4,130.2 11.8,126.3M148.8,62.3Q149.3,63.2 149.5,64.3M108.7,51.2Q104.4,47.4 100.6,43.0M205.3,90.9Q207.4,91.9 209.6,92.4M36.1,126.9Q40.0,131.7 44.2,136.2M36.1,126.9Q39.2,124.2 41.7,120.9M78.7,102.7Q78.4,102.3 78.1,101.9M44.5,121.7Q43.2,121.1 41.7,120.9M164.5,158.6Q169.1,159.1 173.5,157.4M203.5,133.2Q206.3,134.1 209.2,134.8M96.3,117.8Q97.7,117.1 98.8,116.1M99.9,108.6Q99.0,112.3 98.8,116.1M205.1,71.4Q205.5,71.6 205.9,71.9M173.5,157.4Q174.9,155.4 175.9,153.2M39.4,140.8Q36.7,140.3 33.9,140.5M63.5,34.8Q65.6,37.1 67.7,39.2M133.2,112.7Q131.8,113.1 130.5,113.8M186.3,161.0Q186.5,160.1 186.6,159.2M139.6,57.3Q136.8,63.0 135.2,69.0M187.9,146.3Q191.0,151.3 195.7,154.9M176.9,140.2Q177.4,146.6 176.4,152.9M79.9,78.7Q81.1,76.9 82.9,75.9M148.8,49.4Q152.0,50.3 153.6,53.3M185.3,32.8Q184.5,36.2 184.3,39.7M196.2,155.0Q198.7,151.5 201.5,148.2M9.7,149.2Q7.6,148.6 6.0,147.1M146.5,87.3Q145.1,90.8 143.4,94.2M116.1,109.7Q120.8,108.5 125.7,108.9M67.1,25.5Q65.5,30.3 63.5,34.8M113.6,111.0Q114.3,111.0 115.0,110.9M90.8,54.8Q93.0,54.0 95.2,53.3M213.7,100.5Q216.1,100.4 218.0,98.9M127.3,83.0Q130.0,87.5 134.8,89.7M43.8,24.8Q43.7,24.4 43.7,24.0M42.7,108.7Q42.4,104.9 40.9,101.5M39.4,140.8Q41.9,139.0 44.3,137.0M35.6,74.6Q35.2,73.7 34.4,73.0M107.2,159.9Q105.0,158.3 102.3,157.6M187.0,81.1Q190.8,78.4 193.4,74.6M22.9,143.3Q21.2,139.4 19.7,135.3M44.5,121.7Q47.1,124.2 48.2,127.6M13.5,102.8Q11.2,102.9 9.0,103.5M174.1,35.0Q174.7,39.0 176.8,42.4M120.7,140.9Q122.0,142.9 122.8,145.1M193.9,72.9Q199.5,72.0 205.1,71.4M168.5,80.3Q173.1,80.4 177.5,81.1M168.3,120.5Q172.8,119.7 177.2,121.1M48.4,74.4Q48.5,73.9 48.7,73.5M43.7,61.9Q46.5,61.2 48.9,59.5M211.0,134.1Q210.1,134.5 209.2,134.8M34.2,32.4Q33.0,31.5 32.1,30.2M33.9,140.5Q29.8,136.6 27.7,131.4M137.7,104.2Q134.3,100.2 129.5,98.2M127.3,83.0Q127.2,82.3 127.2,81.6M82.8,123.2Q79.4,122.9 76.0,122.5M173.8,99.9Q169.7,101.5 165.9,103.6M11.1,115.6Q10.6,115.5 10.1,115.3M131.5,144.0Q127.5,144.8 123.5,145.5M139.6,57.3Q143.7,60.7 148.8,62.3M185.3,91.4Q182.3,90.8 179.4,90.2M103.7,35.0Q98.1,33.4 93.2,30.3M149.5,64.3Q154.7,65.5 159.9,66.5M30.2,149.9Q34.8,152.0 39.0,155.0M31.0,55.3Q26.9,54.0 23.0,52.2M67.0,45.4Q71.8,46.3 76.0,48.9M39.4,140.8Q39.2,147.2 41.0,153.3M187.3,129.0Q183.2,126.9 178.7,126.0M128.2,37.5Q125.9,37.9 123.6,38.5M46.1,82.4Q46.0,79.4 45.9,76.4M140.3,103.8Q142.9,100.0 144.0,95.4M132.9,126.6Q130.1,121.8 129.5,116.3M59.2,134.1Q61.9,136.1 64.0,138.7M79.1,46.0Q77.9,47.8 76.0,48.9M140.8,38.7Q139.9,35.3 139.4,31.8M191.5,125.5Q189.1,126.8 187.3,129.0M118.2,125.2Q119.4,122.6 119.5,119.8M89.3,143.9Q89.8,146.2 91.2,148.3M169.0,89.6Q167.8,86.7 167.1,83.6M40.0,89.2Q36.3,86.1 33.4,82.2M174.3,131.0Q170.2,130.9 166.3,129.9M118.0,125.3Q114.5,130.4 111.0,135.6M148.8,156.1Q150.2,150.7 150.1,145.1M195.3,61.1Q194.0,59.2 193.0,57.2M164.9,126.8Q160.8,125.5 156.7,123.9M156.7,123.9Q157.4,121.2 157.9,118.5M71.9,57.5Q74.3,55.5 76.0,52.8M114.2,44.4Q113.1,46.9 112.5,49.6M6.0,41.0Q7.3,43.4 8.4,45.9M15.4,34.6Q19.0,33.4 22.7,32.5M113.0,69.5Q117.9,70.8 122.2,73.3M12.0,51.5Q17.1,51.5 22.1,52.8M51.3,140.0Q47.6,139.0 44.3,137.0M32.7,95.5Q33.4,97.0 33.8,98.5M180.5,71.8Q181.7,70.1 183.6,69.0M38.4,112.4Q36.9,112.1 35.4,112.1M46.1,95.2Q47.4,95.0 48.6,95.4M30.2,149.9Q27.2,150.5 25.8,153.2M164.7,106.2Q165.6,108.0 166.3,109.8M60.5,70.4Q57.4,70.1 54.7,68.7M80.3,66.6Q81.9,69.7 83.5,72.8M169.9,46.9Q172.7,47.1 175.1,45.6M205.9,80.3Q205.2,76.1 205.9,71.9M164.9,126.8Q165.3,128.5 166.3,129.9M123.5,159.4Q122.8,159.4 122.2,159.6M53.3,147.2Q53.1,147.8 52.9,148.4M123.0,78.1Q124.9,80.1 127.2,81.6M179.4,90.2Q179.4,85.4 177.5,81.1M83.4,112.8Q85.7,112.2 88.1,111.5M204.2,120.1Q204.4,119.8 204.8,119.8M10.5,74.4Q13.0,78.8 17.6,80.8M144.0,95.4Q143.8,94.8 143.4,94.2M140.7,81.9Q144.0,84.2 146.5,87.3M62.3,75.4Q60.9,78.2 59.2,80.7M51.7,49.7Q49.9,54.5 48.9,59.5M18.9,66.2Q20.8,70.9 23.3,75.3M51.1,30.9Q47.0,34.7 43.3,38.9M214.3,110.3Q211.1,109.8 208.2,111.2M40.0,89.2Q42.9,85.7 46.1,82.4M191.5,125.5Q197.3,129.5 203.2,133.3M55.5,42.7Q53.8,44.4 52.0,46.1M147.5,67.9Q141.5,68.3 135.7,69.7M144.0,49.7Q141.1,52.2 138.8,55.3M43.3,39.5Q48.3,41.8 52.0,46.1M116.5,27.2Q117.3,28.2 117.9,29.4M25.8,153.2Q21.9,152.5 18.3,150.6M203.0,24.5Q201.4,24.3 199.8,24.0M11.1,115.6Q14.6,111.9 19.2,109.8M88.9,35.4Q91.0,32.8 93.2,30.3M43.7,61.9Q47.0,67.4 48.7,73.5M20.8,110.0Q22.7,108.4 24.8,107.1M100.6,43.0Q99.5,43.5 98.3,43.9M122.2,73.3Q122.4,75.8 123.0,78.1M188.3,139.9Q188.4,143.1 187.9,146.3M116.5,27.2Q111.9,25.5 107.2,24.2M64.3,24.0Q65.5,24.2 66.8,24.6M88.1,111.5Q89.7,107.4 91.0,103.2M193.9,72.9Q193.7,73.1 193.6,73.2M127.0,131.1Q122.3,128.5 118.2,125.2M164.8,115.1Q166.9,117.5 168.3,120.5M44.3,108.7Q48.3,112.3 52.7,115.4M11.1,115.6Q12.5,118.8 13.9,122.1M129.5,98.2Q131.7,94.1 134.9,90.7M82.9,75.9Q82.9,74.3 83.5,72.8M78.1,101.9Q78.4,96.8 79.5,91.7M17.2,94.9Q17.5,95.0 17.9,94.9M156.7,123.9Q154.4,125.5 152.2,127.2M152.6,97.5Q148.1,97.0 144.0,95.4M178.1,118.3Q181.7,116.6 185.3,114.9M123.0,78.1Q118.8,80.2 114.7,82.5M154.6,85.5Q154.8,85.7 155.0,85.8M127.9,66.8Q125.5,70.5 122.2,73.3M64.6,66.0Q62.9,62.3 61.5,58.5M188.1,139.7Q182.5,140.9 176.9,140.2M123.5,145.5Q124.8,149.6 127.3,153.1M115.5,153.7Q115.5,153.4 115.5,153.2M70.3,148.3Q68.2,148.2 66.2,148.7M30.4,64.4Q32.1,66.0 33.9,67.4" stroke="#10807a" stroke-width="1.35" opacity="0.85" stroke-dasharray="5 0.8 3 1"/>
<path d="M125.2,97.3Q126.7,97.6 128.0,98.4M35.6,74.6Q35.0,78.5 33.4,82.2M186.8,96.6Q182.9,100.0 179.4,103.7M174.3,131.0Q175.9,128.0 178.7,126.0M161.6,149.1Q159.2,145.5 155.3,143.6M85.1,24.0Q83.1,25.0 81.1,26.0M13.1,138.8Q9.6,137.1 6.0,135.8M83.4,112.8Q81.0,112.0 79.2,110.3M67.1,25.5Q71.9,29.5 76.7,33.4M88.3,58.8Q91.7,63.8 95.4,68.5M174.6,92.6Q172.4,90.0 169.0,89.6M150.1,145.1Q152.7,144.1 155.3,143.6M64.6,66.0Q68.3,65.8 71.6,67.5M69.8,89.3Q69.7,87.7 69.2,86.2M57.5,108.2Q56.8,106.0 56.2,103.8M147.9,25.8Q147.6,24.9 147.6,24.0M190.9,107.7Q193.5,108.7 196.1,109.5M84.9,45.5Q81.9,45.0 79.1,46.0M217.6,83.3Q214.6,77.0 213.7,70.1M67.7,39.2Q72.7,38.3 76.2,34.7M193.2,56.0Q190.5,52.4 186.9,49.7M91.4,98.9Q91.1,100.3 90.5,101.7M76.7,33.4Q76.5,34.1 76.2,34.7M18.0,150.7Q18.2,150.7 18.3,150.6M138.1,154.9Q143.5,154.3 148.8,156.1M48.9,59.5Q52.4,60.1 54.6,63.0M136.6,54.5Q130.9,57.5 124.8,59.8M201.6,31.9Q204.3,33.4 206.3,35.8M186.8,96.6Q188.5,97.8 190.3,99.1M197.2,52.8Q197.8,48.6 199.0,44.6M31.0,55.3Q34.1,53.1 37.6,51.6M48.6,95.4Q49.5,99.5 52.4,102.6M59.2,134.1Q59.6,133.1 59.6,132.0M59.6,93.2Q57.1,91.3 54.5,89.5M111.0,135.6Q111.1,137.4 112.1,138.8M52.7,115.4Q54.8,111.6 57.5,108.2M29.8,42.1Q32.0,37.3 34.2,32.4M174.5,161.0Q173.8,159.3 173.5,157.4M13.2,24.0Q11.1,26.7 9.8,30.0M74.8,152.4Q74.5,154.4 74.7,156.5M135.2,69.0Q135.4,69.4 135.7,69.7M104.4,37.1Q104.2,36.0 103.7,35.0M180.9,153.1Q183.9,156.0 186.6,159.2M63.4,156.3Q64.6,152.5 66.2,148.7M15.3,41.4Q20.1,44.1 25.4,43.3M25.9,161.0Q26.3,160.3 26.9,159.8M213.2,28.6Q215.6,29.1 218.0,28.7M201.6,31.9Q198.5,33.3 195.2,34.1M214.0,58.1Q212.0,57.2 210.0,56.2M167.1,83.6Q161.3,86.1 155.0,85.8M95.7,161.0Q99.1,159.5 102.3,157.6M37.6,51.6Q37.7,51.7 37.9,51.8M174.3,131.0Q176.0,134.9 175.4,139.2M159.7,46.5Q163.3,45.5 167.1,45.1M30.4,64.4Q29.6,59.7 31.0,55.3M13.5,102.8Q14.9,98.6 17.2,94.9M33.8,98.5Q31.5,102.7 30.1,107.2M205.0,42.8Q207.4,44.5 209.9,45.9M124.8,59.8Q126.2,63.4 127.9,66.8M109.9,95.2Q107.6,91.3 104.7,87.9M79.6,32.0Q80.0,28.9 81.1,26.0M165.9,103.6Q163.8,99.5 162.6,95.1M90.5,101.7Q84.6,101.8 78.7,102.7M9.6,46.5Q12.7,44.2 15.3,41.4M183.7,62.4Q183.1,65.7 183.6,69.0M121.4,91.5Q123.2,94.4 125.2,97.3M29.8,144.9Q32.1,142.9 33.9,140.5M40.9,101.5Q37.1,100.7 33.8,98.5M71.6,138.1Q67.9,139.0 64.0,138.7M168.4,53.4Q171.2,56.5 173.4,60.0M69.8,89.3Q74.3,91.8 79.5,91.7M196.1,109.5Q199.2,107.6 202.2,105.6M140.5,79.3Q138.5,77.5 136.4,75.8M104.8,73.0Q103.6,76.6 102.2,80.3M121.3,161.0Q121.8,160.4 122.2,159.6M168.5,80.3Q167.6,81.8 167.1,83.6M160.8,56.7Q161.4,60.2 161.5,63.8M92.2,138.8Q91.6,135.5 89.8,132.8M209.6,92.4Q213.0,89.2 217.2,87.0M47.0,153.1Q49.7,150.5 52.9,148.4M188.3,139.9Q192.5,139.7 196.8,139.9M217.9,118.1Q215.7,121.1 212.2,122.5M123.5,145.5Q123.2,145.3 122.8,145.1M187.0,81.1Q187.8,84.6 188.4,88.0M10.5,74.4Q8.5,74.5 6.4,74.5M6.0,74.8Q6.2,74.7 6.4,74.5M118.0,125.3Q113.2,124.3 108.5,122.7M144.0,118.1Q144.2,118.8 144.0,119.6M84.9,45.5Q87.6,50.3 90.8,54.8M113.0,64.2Q117.0,60.3 122.1,58.1M193.2,56.0Q195.2,54.3 197.2,52.8M108.5,122.7Q106.7,120.6 106.4,117.8M60.3,100.2Q64.5,101.6 68.8,101.9M104.8,73.0Q101.2,70.8 97.9,68.0M68.8,101.9Q69.0,107.3 67.1,112.4M117.9,29.4Q124.7,28.0 131.6,27.3M195.0,24.0Q192.1,26.6 189.9,29.9M8.2,30.5Q9.1,30.4 9.8,30.0M74.8,152.4Q77.6,150.7 80.5,149.3M209.9,45.9Q213.9,44.1 218.0,42.4M39.0,155.0Q38.8,157.3 37.6,159.3M183.7,62.4Q188.1,59.5 193.0,57.2M186.8,96.6Q186.2,93.9 185.3,91.4M81.2,142.6Q81.5,146.0 80.5,149.3M73.6,141.6Q72.4,140.0 71.6,138.1M69.2,86.2Q64.5,83.3 59.4,81.4M153.6,37.8Q153.8,37.2 154.1,36.7M115.5,153.7Q118.5,157.0 122.2,159.6M144.0,49.7Q146.4,50.3 148.8,49.4M202.3,104.3Q202.3,105.0 202.2,105.6M82.9,123.3Q82.9,127.5 84.5,131.4M143.0,138.4Q138.3,138.9 133.7,138.9M168.4,53.4Q169.3,50.2 169.9,46.9M83.1,132.7Q83.9,132.2 84.5,131.4M211.0,98.8Q212.4,99.6 213.7,100.5M8.4,45.9Q7.2,46.2 6.0,46.7M9.1,59.5Q7.4,59.9 6.0,60.9M51.1,30.9Q51.9,31.3 52.8,31.0M190.9,107.7Q190.3,103.4 190.3,99.1M127.2,81.6Q131.7,78.6 136.4,75.8M157.8,136.6Q154.9,133.1 151.8,129.8M21.2,64.3Q22.2,58.6 22.1,52.8M25.8,153.2Q26.0,156.5 26.9,159.8M29.9,118.6Q32.8,115.5 35.4,112.1M164.9,35.1Q159.6,36.0 154.1,36.7M107.2,159.9Q111.0,156.3 115.5,153.7M29.8,42.1Q33.1,44.1 36.3,46.1M156.5,92.9Q155.5,89.4 155.0,85.8M114.7,82.5Q113.6,82.2 112.6,81.6M178.1,118.3Q176.6,115.0 175.0,111.9M83.5,90.2Q87.5,86.8 92.2,84.6M121.4,91.5Q119.3,90.8 117.2,90.4M32.7,95.5Q32.0,95.2 31.3,94.9M57.9,24.0Q55.8,27.9 52.8,31.0M198.5,97.1Q194.1,97.0 190.3,99.1M88.3,58.8Q86.5,59.1 84.9,59.7M135.7,69.7Q135.7,72.8 136.4,75.8M89.6,40.0Q93.9,42.1 98.3,43.9M156.4,53.0Q158.0,49.7 159.7,46.5M164.7,106.2Q165.4,105.0 165.9,103.6M36.3,46.1Q39.8,42.8 43.3,39.5M147.5,67.9Q148.8,66.3 149.5,64.3M113.0,69.5Q112.0,71.1 110.5,72.2M66.8,24.6Q67.0,24.3 67.2,24.0M60.3,100.2Q58.1,101.7 56.2,103.8M95.5,119.9Q95.8,124.0 97.3,127.8M25.2,131.4Q23.1,126.7 21.1,122.0M42.1,61.5Q38.5,65.1 33.9,67.4M67.7,113.7Q67.1,113.2 67.1,112.4M180.5,71.8Q180.4,75.0 180.4,78.2M106.4,117.8Q102.5,117.4 98.8,116.1M199.9,93.0Q202.5,91.7 205.3,90.9M136.4,126.5Q140.0,122.8 144.0,119.6M214.3,110.3Q216.7,114.0 217.9,118.1M56.6,36.2Q55.6,39.4 55.5,42.7M10.1,115.3Q8.3,112.8 6.7,110.3M131.5,144.0Q132.4,141.3 133.7,138.9M107.2,24.2Q106.3,29.9 103.7,35.0M131.9,47.3Q134.2,50.9 136.6,54.5M173.8,99.9Q174.1,96.2 174.6,92.6M69.0,101.7Q68.8,95.9 69.3,90.0M67.0,45.4Q66.6,45.5 66.4,45.8M139.4,31.8Q143.4,28.5 147.9,25.8M210.0,148.4Q209.7,148.1 209.4,147.9M51.3,140.0Q53.1,143.4 53.3,147.2M192.7,121.9Q192.6,123.9 191.5,125.5M102.2,80.3Q98.3,80.3 94.4,80.0M213.2,28.6Q212.5,31.0 211.6,33.4M20.8,110.0Q22.6,113.8 23.7,118.0M218.0,138.1Q214.7,135.8 211.0,134.1M166.3,129.9Q164.5,132.7 162.8,135.7M54.5,89.2Q56.5,85.0 59.4,81.4M115.0,110.9Q115.5,110.3 116.1,109.7M101.7,147.9Q101.9,147.3 102.3,146.8M137.1,153.2Q137.4,154.1 138.1,154.9M76.0,48.9Q76.1,50.9 76.0,52.8M116.5,27.2Q117.1,25.5 118.0,24.0M134.8,89.7Q137.4,85.6 140.7,81.9M9.7,149.2Q7.9,152.9 6.2,156.8M111.0,135.6Q107.3,132.7 102.9,130.9M138.8,55.3Q137.7,54.9 136.6,54.5M172.9,70.3Q172.5,66.4 171.6,62.7M174.6,24.1Q176.2,27.2 176.8,30.6M37.7,32.6Q41.9,29.5 43.8,24.8M149.4,161.0Q149.9,160.4 150.4,159.9M214.0,58.1Q215.4,64.1 213.8,70.0M95.4,68.6Q95.8,74.4 94.4,80.0M61.8,55.7Q64.1,50.7 66.4,45.8M10.3,89.7Q13.9,92.2 17.2,94.9M179.7,50.8Q177.6,48.0 175.1,45.6M51.6,49.5Q51.8,47.8 52.0,46.1M70.2,161.0Q70.2,160.7 70.1,160.5M151.4,161.0Q150.8,160.5 150.4,159.9M151.8,129.8Q147.3,131.9 143.7,135.4M62.3,75.4Q61.4,72.9 60.5,70.4M33.4,82.2Q30.0,83.7 26.9,85.7M56.6,36.2Q60.0,35.3 63.5,34.8M95.9,96.1Q96.4,93.2 97.2,90.5M208.2,111.2Q207.0,115.7 204.8,119.8M88.9,35.4Q89.5,37.6 89.6,40.0M47.0,153.1Q44.0,152.8 41.0,153.3M174.6,92.6Q176.9,91.1 179.4,90.2M125.1,48.8Q123.3,45.9 121.7,43.0M154.6,85.5Q150.8,87.5 146.5,87.3M189.9,29.9Q192.8,31.7 195.2,34.1M70.5,75.0Q71.5,77.0 73.0,78.7M84.5,131.4Q87.2,131.8 89.8,132.8M185.8,24.0Q187.3,27.0 189.0,29.9M40.0,89.4Q35.8,91.8 32.7,95.5M48.7,73.5Q51.6,71.0 54.7,68.7M51.7,49.7Q56.6,52.9 61.8,55.7M102.2,80.3Q103.8,82.5 105.4,84.7M202.3,104.3Q206.9,102.0 211.0,98.8M42.1,61.5Q42.9,61.7 43.7,61.9M90.8,54.8Q88.8,56.4 88.3,58.8M195.3,61.1Q193.1,66.8 193.9,72.9M70.1,160.5Q71.8,157.7 74.7,156.5M162.8,135.7Q160.3,136.2 157.8,136.6M91.4,98.9Q86.6,95.3 83.5,90.2M157.9,118.5Q155.5,116.1 153.3,113.5M70.5,128.4Q71.8,130.8 73.2,133.1M131.9,47.3Q128.4,47.7 125.1,48.8M84.9,59.7Q81.0,55.6 76.0,52.8M203.5,133.2Q203.9,126.7 204.2,120.1M179.7,105.0Q183.9,106.4 186.7,109.8M131.7,24.2Q131.5,25.7 131.6,27.3M9.0,103.5Q7.3,102.6 6.0,101.1M62.3,75.4Q66.4,74.5 70.5,75.0M34.4,73.0Q29.0,74.7 23.3,75.3M71.3,114.5Q69.4,114.5 67.7,113.7M70.3,148.3Q72.4,150.5 74.8,152.4M196.8,139.9Q199.2,135.8 203.2,133.3M137.1,153.2Q132.2,153.5 127.3,153.1M74.7,156.5Q77.7,158.4 81.0,159.8M109.8,95.7Q109.9,95.4 109.9,95.2M127.9,66.8Q131.7,67.6 135.2,69.0M197.5,81.9Q196.9,85.1 194.6,87.6M81.4,142.4Q81.3,142.5 81.2,142.6M52.9,148.4Q55.4,153.7 59.8,157.6M147.9,25.8Q149.9,27.6 152.2,29.2M113.0,69.5Q113.2,66.9 113.0,64.2M18.3,150.6Q20.1,146.6 22.9,143.3M45.9,76.4Q47.0,75.2 48.4,74.4M55.5,42.7Q61.3,43.0 66.4,45.8M134.8,89.7Q134.9,90.2 134.9,90.7M99.1,24.0Q96.1,24.7 93.2,25.5M218.0,160.9Q217.6,160.9 217.3,160.9M164.8,115.1Q165.6,112.4 166.3,109.8M21.6,24.7Q22.7,27.6 23.6,30.7M64.0,138.7Q64.4,142.6 63.5,146.3M153.6,78.2Q155.6,81.6 154.6,85.5M133.2,112.7Q138.6,115.2 144.0,118.1M9.7,161.0Q7.6,159.2 6.2,156.8M30.2,149.9Q30.6,147.3 29.8,144.9M153.6,78.2Q151.3,77.2 149.2,75.7M42.1,61.5Q39.1,57.0 37.9,51.8M127.3,153.1Q124.6,155.8 123.5,159.4M12.0,51.5Q11.1,48.8 9.6,46.5M176.4,152.9Q178.6,153.2 180.9,153.1M168.5,80.3Q167.7,77.8 167.0,75.2M22.7,32.5Q23.1,31.5 23.6,30.7M218.0,108.4Q216.7,109.1 215.2,109.1M153.3,103.9Q148.5,105.0 143.9,106.4M211.6,33.4Q215.7,36.2 218.0,40.6M93.2,30.3Q93.4,27.9 93.2,25.5M51.0,161.0Q49.3,156.9 47.0,153.1M17.1,160.1Q17.3,155.4 18.0,150.7M62.1,56.6Q67.0,57.2 71.9,57.5M161.1,72.1Q160.4,69.3 159.9,66.5M155.8,106.3Q155.5,110.2 153.3,113.5M165.4,24.3Q165.3,29.7 164.9,35.1M177.5,81.1Q179.0,79.7 180.4,78.2M48.4,74.4Q53.6,77.8 59.2,80.7M19.2,109.8Q20.0,110.1 20.8,110.0M6.0,110.3Q6.3,110.4 6.7,110.3M140.7,81.9Q140.5,80.6 140.5,79.3M161.6,24.0Q156.7,26.3 152.2,29.2M26.3,42.5Q24.8,37.4 22.7,32.5M79.1,46.0Q77.9,40.3 76.2,34.7M25.2,131.4Q22.3,133.0 19.8,135.1" stroke="#189089" stroke-width="1.15" opacity="0.7" stroke-dasharray="3 1 6 1.2"/>
<path d="M113.6,111.0Q108.6,112.9 106.4,117.8M186.9,49.7Q183.4,50.7 179.7,50.8M143.0,138.4Q142.9,136.7 143.7,135.4M104.7,87.9Q100.8,88.7 97.2,90.5M79.2,110.3Q74.5,111.1 71.3,114.5M128.0,98.4Q125.7,103.4 125.7,108.9M52.9,116.6Q52.8,115.9 52.7,115.4M178.4,58.9Q175.8,59.2 173.4,60.0M108.5,122.7Q104.4,125.9 102.9,130.9M17.9,94.9Q21.1,89.9 24.9,85.3M193.0,57.2Q193.2,56.6 193.2,56.0M67.7,39.2Q67.6,42.3 67.0,45.4M9.0,103.5Q8.1,107.0 6.7,110.3M26.9,85.7Q25.9,85.6 24.9,85.3M46.1,82.4Q49.9,86.3 54.5,89.2M104.5,104.9Q108.8,108.4 113.6,111.0M136.0,161.0Q137.2,158.0 138.1,154.9M149.2,75.7Q148.1,71.9 147.5,67.9M137.2,150.7Q133.8,147.8 131.5,144.0M21.2,64.3Q25.8,63.6 30.4,64.4M6.0,92.3Q8.1,90.9 10.3,89.7M8.2,30.5Q7.4,32.4 6.0,34.0M203.3,64.0Q205.3,67.4 205.1,71.4M204.7,81.6Q205.2,81.0 205.9,80.3M11.8,148.3Q14.7,150.0 18.0,150.7M95.5,119.9Q89.3,121.9 82.9,123.3M174.6,24.1Q170.0,23.3 165.4,24.3M83.1,132.7Q78.2,133.8 73.2,133.1M40.9,101.5Q44.2,98.9 46.1,95.2M218.0,129.1Q215.8,129.9 213.5,130.2M55.1,126.7Q55.3,123.0 55.9,119.4M92.6,81.7Q87.8,78.7 82.9,75.9M52.4,102.6Q54.2,103.6 56.2,103.8M212.2,122.5Q213.4,126.2 213.5,130.2M113.0,64.2Q109.4,60.7 104.9,58.3M163.6,161.0Q163.9,159.7 164.5,158.6M144.2,141.6Q146.9,143.8 150.1,145.1M16.2,24.0Q19.0,24.0 21.6,24.7M97.2,90.5Q94.6,87.6 92.2,84.6M206.3,35.8Q205.4,39.2 205.0,42.8M164.5,158.6Q162.7,155.9 160.8,153.4M95.9,96.1Q93.3,96.8 91.4,98.9M184.3,39.7Q180.7,41.4 176.8,42.4M192.7,121.9Q194.9,120.3 197.1,118.8M22.2,24.0Q21.9,24.4 21.6,24.7M144.2,141.6Q143.6,140.0 143.0,138.4M9.7,149.2Q10.8,148.8 11.8,148.3M107.2,159.9Q107.5,160.4 107.7,161.0M54.6,63.0Q58.2,60.9 61.5,58.5M164.8,115.1Q161.7,117.5 157.9,118.5M186.6,159.2Q190.7,156.1 195.7,154.9M117.9,29.4Q117.6,30.6 117.7,31.9M42.7,108.7Q40.6,110.7 38.4,112.4M91.2,148.3Q96.4,146.9 101.7,147.9M22.9,143.3Q26.4,143.7 29.8,144.9M185.3,91.4Q187.4,90.2 188.4,88.0M80.5,149.3Q83.9,151.3 86.8,153.9M184.3,39.7Q186.2,41.2 187.9,42.9M194.6,87.6Q191.5,87.1 188.4,88.0M115.5,153.2Q118.8,148.9 122.8,145.1M63.5,146.3Q64.6,147.7 66.2,148.7M202.3,104.3Q201.1,100.4 198.5,97.1M179.7,50.8Q179.0,54.8 178.4,58.9M195.2,34.1Q195.3,37.7 195.4,41.3M57.5,108.2Q62.4,110.0 67.1,112.4M91.0,103.2Q95.2,106.2 99.9,108.6M17.1,160.1Q19.2,160.4 21.2,161.0M153.6,37.8Q156.3,42.5 159.7,46.5M91.0,103.2Q90.8,102.4 90.5,101.7M10.3,89.4Q9.0,85.2 6.0,81.9M43.3,38.9Q40.6,35.6 37.7,32.6M111.1,38.4Q114.6,35.3 117.7,31.9M32.9,127.1Q30.7,129.7 27.7,131.4M38.0,160.9Q37.9,160.1 37.6,159.3M92.2,84.6Q92.5,83.2 92.6,81.7M79.6,24.0Q80.3,25.0 81.1,26.0M153.6,78.2Q157.9,75.7 161.1,72.1M32.9,127.1Q34.5,127.3 36.1,126.9M150.1,157.4Q149.4,156.8 148.8,156.1M38.4,112.4Q40.6,116.4 41.7,120.9M76.0,122.5Q73.2,125.4 70.5,128.4M69.2,86.2Q71.0,82.4 73.0,78.7M128.0,98.4Q128.8,98.3 129.5,98.2M127.0,131.1Q127.4,131.1 127.7,131.0M66.8,24.6Q66.8,25.1 67.1,25.5M199.9,161.0Q197.7,158.2 196.2,155.0M70.5,75.0Q70.9,71.3 71.6,67.5M213.8,70.0Q215.9,69.5 218.0,69.9M210.7,155.7Q206.9,158.1 203.3,161.0M176.8,42.4Q176.1,44.1 175.1,45.6M40.0,89.4Q42.1,93.3 46.1,95.2M172.9,70.3Q170.0,72.7 167.0,75.2M196.2,155.0Q195.9,155.0 195.7,154.9M82.8,123.2Q84.3,118.1 83.4,112.8M88.9,35.4Q83.9,34.6 79.6,32.0M115.0,110.9Q116.4,115.8 119.5,119.8M97.3,127.8Q93.1,129.6 89.8,132.8M176.8,30.6Q175.2,32.6 174.1,35.0M96.3,117.8Q95.8,118.8 95.5,119.9M101.7,147.9Q102.4,152.7 102.3,157.6M165.4,24.3Q165.3,24.2 165.1,24.0M64.2,118.4Q65.2,115.5 67.7,113.7M52.8,31.0Q54.3,33.9 56.6,36.2M212.2,122.5Q208.8,120.3 204.8,119.8M203.2,133.3Q203.3,133.3 203.5,133.2M18.9,66.0Q14.0,62.7 9.1,59.5M55.1,126.7Q57.2,129.5 59.6,132.0M27.7,131.4Q26.4,131.0 25.2,131.4M13.9,122.1Q13.1,124.3 11.8,126.3M71.6,67.5Q72.4,66.7 73.4,66.0M9.8,30.0Q12.7,32.2 15.4,34.6M199.0,44.6Q197.2,43.0 195.4,41.3M143.9,106.4Q142.4,104.7 140.3,103.8M34.4,73.0Q34.4,70.2 33.9,67.4M61.8,55.7Q61.9,56.2 62.1,56.6M111.1,38.4Q112.4,41.5 114.2,44.4M51.3,140.0Q55.1,136.9 59.2,134.1M139.4,31.8Q135.8,29.7 132.0,28.0M6.4,74.5Q5.4,67.8 6.0,60.9M152.6,97.5Q154.4,95.1 156.5,92.9" stroke="#1a948d" stroke-width="1.05" opacity="0.5"/>
<path d="M50.2,118.1h1.2M60.6,112.8h1.6M166.4,68.6h1.0M154.2,92.1h0.6M186.5,106.0h1.4M45.6,108.1h0.7M54.4,123.4h1.1M133.0,81.2h0.7M26.3,133.7h0.7M53.9,101.4h1.3M86.7,112.7h1.5M8.3,105.1h1.4M176.6,103.2h1.0M106.3,142.9h1.4M59.6,86.3h1.2M214.2,85.2h1.3M6.6,138.1h1.4M147.5,116.3h0.8M31.7,107.1h1.4M135.7,94.6h1.4M56.6,79.7h0.8M165.5,75.5h0.9M47.2,103.0h1.5M60.8,144.8h1.3M26.7,96.7h1.4M152.4,66.7h0.7M99.2,124.8h1.4M213.5,80.1h0.6M166.5,129.4h1.4M112.7,102.5h1.6M87.6,125.7h1.5M62.6,70.4h1.4M202.3,69.1h1.5M143.0,106.5h1.1M129.8,92.9h1.2M139.8,129.6h1.5M191.3,82.1h0.7M65.2,87.2h0.9M21.6,113.6h1.1M11.7,148.6h0.7M65.1,153.0h1.1M71.8,105.5h1.5M184.9,114.4h0.6M112.1,87.8h1.5M54.8,157.2h1.0M133.8,94.6h0.7M55.1,110.8h1.5M73.3,120.7h1.3M213.3,112.0h1.2M205.1,70.6h1.3M17.7,144.7h1.0M153.7,73.5h0.7M203.8,152.3h0.9M123.8,158.4h1.1M201.1,70.5h1.3M122.7,99.9h0.8M203.1,70.2h0.9M89.7,91.9h1.1M137.7,118.4h1.2M55.3,77.7h1.3M188.0,66.6h1.5M209.2,98.5h1.0M133.0,155.6h1.1M198.9,80.7h1.6M197.5,117.8h0.8M63.1,86.2h0.9M153.2,112.1h1.3M198.4,133.8h1.2M192.0,77.6h1.4M157.0,74.6h0.7M211.4,148.0h1.0M90.9,98.2h1.4M102.9,112.9h1.3M78.3,152.4h1.5M193.7,117.9h0.8M194.8,130.3h0.8M165.0,154.5h0.7M119.0,99.2h0.8M67.7,102.3h0.9M38.6,141.0h1.0M123.2,115.6h1.1M105.2,106.7h0.9M36.1,118.7h1.1M193.3,92.3h1.1M132.3,73.8h0.6M207.2,115.5h0.8M176.8,133.8h0.9M23.2,121.8h1.0M129.2,130.3h1.5M91.4,154.4h0.7M113.6,157.1h0.8M161.3,131.6h1.6M213.6,139.7h1.4M35.5,146.4h1.6M22.4,96.2h1.1M97.2,122.8h1.0M143.5,133.0h1.0M42.6,145.0h1.3M215.7,133.5h1.0M94.1,114.0h0.7M111.7,156.8h1.3M201.4,113.9h1.2M55.2,68.9h0.7M100.2,85.2h1.0M15.7,141.9h0.7M54.8,138.4h1.5M16.7,155.2h1.4M143.1,77.9h0.7M155.6,144.2h0.8M211.1,136.6h1.4M151.9,125.6h0.8M115.7,114.1h1.2M34.8,89.0h1.2M134.4,106.2h0.9M56.4,110.0h1.5M150.5,140.6h1.6M48.3,120.1h1.4M151.5,155.9h1.4M204.2,147.7h1.3M61.7,66.9h0.7M108.9,66.7h1.4M208.9,101.9h1.6M29.2,76.7h1.3M214.6,106.0h1.6M44.5,81.6h1.1M8.2,158.0h1.2M117.5,111.2h0.6M14.3,116.4h1.5M11.1,73.7h1.1M60.4,128.3h1.3M36.5,125.3h1.2M28.3,89.6h1.5M130.7,77.7h1.0M164.0,127.1h1.0M119.7,89.8h1.4M205.1,128.9h0.9M139.4,159.0h1.4M209.7,107.4h0.7M39.1,116.8h1.2M193.2,100.5h1.0M33.8,124.3h1.0M37.8,97.0h0.8M184.1,115.0h0.8M216.2,118.6h1.4M181.7,76.8h0.8M23.2,146.9h1.2M67.5,79.2h1.1M116.4,84.8h0.8M59.3,142.9h0.8M54.0,121.3h1.1" stroke="#117a74" stroke-width="1.1" opacity="0.7"/>
<path d="M109.6,160.0Q114.0,163.5 117.6,167.8M117.6,167.8Q123.5,164.4 128.7,160.0M6.0,176.2Q4.4,181.0 6.8,185.3M9.7,194.0Q9.9,190.4 9.4,186.7M27.0,194.0Q27.3,190.2 27.0,186.4M27.0,186.4Q18.2,187.3 9.4,186.7M6.8,185.3Q8.3,185.7 9.4,186.7M213.5,179.5Q211.1,173.7 205.0,172.5M72.6,194.0Q69.9,190.0 66.2,186.8M102.3,193.9Q92.7,180.9 83.1,167.8M66.2,186.8Q69.1,180.3 71.3,173.5M83.1,167.8Q77.4,171.1 71.3,173.5M132.1,194.0Q131.4,189.8 132.2,185.5M132.2,185.5Q125.4,183.0 119.0,179.6M119.0,179.6Q109.9,185.8 102.3,193.9M49.8,194.0Q50.3,192.9 50.0,191.7M50.0,191.7Q57.4,186.9 66.2,186.8M87.3,160.0Q88.1,165.5 83.1,167.8M117.6,167.8Q122.1,173.3 119.0,179.6M42.5,186.5Q47.0,173.5 49.1,160.0M42.5,186.5Q35.7,184.7 28.7,185.5M28.7,185.5Q29.2,172.7 27.4,160.0M50.0,191.7Q45.7,189.9 42.5,186.5M71.3,173.5Q63.0,167.0 55.1,160.0M27.0,186.4Q27.9,186.1 28.7,185.5M6.0,164.1Q9.1,162.2 11.9,160.0M144.9,160.0Q147.8,169.7 151.3,179.3M132.2,185.5Q140.5,186.1 148.1,182.6M148.1,182.6Q150.0,181.2 151.3,179.3M148.1,182.6Q148.0,188.7 150.9,194.0M213.5,179.5Q208.9,186.3 206.0,194.0M158.9,178.3Q168.7,184.4 177.5,191.7M158.9,178.3Q166.2,169.3 173.2,160.0M177.5,191.7Q183.8,180.1 191.5,169.4M183.6,160.0Q188.1,164.3 191.5,169.4M151.3,179.3Q155.0,178.1 158.9,178.3M178.1,194.0Q177.6,192.9 177.5,191.7M205.0,172.5Q198.2,171.1 191.5,169.4" stroke="#11726c" stroke-width="1.2" opacity="0.8"/>
<path d="M137.1,153.2h0.1M30.2,149.9h0.1M42.7,108.7h0.1M32.9,127.1h0.1M47.0,153.1h0.1M192.7,121.9h0.1M164.5,158.6h0.1M138.1,154.9h0.1M150.4,159.9h0.1M173.5,157.4h0.1M83.1,132.7h0.1M82.8,123.2h0.1M76.0,122.5h0.1M55.1,126.7h0.1M55.9,119.4h0.1M164.8,115.1h0.1M166.3,109.8h0.1M173.8,99.9h0.1M174.6,92.6h0.1M191.5,125.5h0.1M187.3,129.0h0.1M188.1,139.7h0.1M11.1,115.6h0.1M10.1,115.3h0.1M19.2,109.8h0.1M13.5,102.8h0.1M46.1,95.2h0.1M37.6,159.3h0.1M26.9,159.8h0.1M44.5,121.7h0.1M48.2,127.6h0.1M44.2,136.2h0.1M81.4,142.4h0.1M89.3,143.9h0.1M10.3,89.7h0.1M17.2,94.9h0.1M10.3,89.4h0.1M17.6,80.8h0.1M186.8,96.6h0.1M179.4,103.7h0.1M205.3,90.9h0.1M150.1,157.4h0.1M148.8,156.1h0.1M160.8,153.4h0.1M161.6,149.1h0.1M210.7,155.7h0.1M196.2,155.0h0.1M188.3,139.9h0.1M210.0,148.4h0.1M137.2,150.7h0.1M131.5,144.0h0.1M123.5,145.5h0.1M127.3,153.1h0.1M123.5,159.4h0.1M109.8,95.7h0.1M113.0,69.5h0.1M108.5,122.7h0.1M83.4,112.8h0.1M88.1,111.5h0.1M107.2,159.9h0.1M115.5,153.7h0.1M122.2,159.6h0.1M155.8,106.3h0.1M118.2,125.2h0.1M180.5,71.8h0.1M185.3,91.4h0.1M179.4,90.2h0.1M177.5,81.1h0.1M180.4,78.2h0.1M66.3,127.5h0.1M59.2,134.1h0.1M9.0,103.5h0.1M6.7,110.3h0.1M20.8,110.0h0.1M29.9,118.6h0.1M35.4,112.1h0.1M30.1,107.2h0.1M60.3,100.2h0.1M48.6,95.4h0.1M52.4,102.6h0.1M56.2,103.8h0.1M9.7,149.2h0.1M18.0,150.7h0.1M63.4,156.3h0.1M17.9,94.9h0.1M31.3,94.9h0.1M190.9,107.7h0.1M198.5,97.1h0.1M190.3,99.1h0.1M215.2,109.1h0.1M179.7,105.0h0.1M178.1,118.3h0.1M175.0,111.9h0.1M168.3,120.5h0.1M174.3,131.0h0.1M177.2,121.1h0.1M175.9,153.2h0.1M166.1,146.8h0.1M168.2,141.4h0.1M180.9,153.1h0.1M187.9,146.3h0.1M186.6,159.2h0.1M203.2,133.3h0.1M201.5,148.2h0.1M209.4,147.9h0.1M111.0,135.6h0.1M102.9,130.9h0.1M102.8,130.9h0.1M102.3,146.8h0.1M98.7,139.9h0.1M104.8,100.5h0.1M91.0,103.2h0.1M121.4,91.5h0.1M95.5,119.9h0.1M97.3,127.8h0.1M82.9,123.3h0.1M84.5,131.4h0.1M89.8,132.8h0.1M79.2,110.3h0.1M67.1,112.4h0.1M69.0,101.7h0.1M153.3,103.9h0.1M143.9,106.4h0.1M125.2,97.3h0.1M128.0,98.4h0.1M153.6,78.2h0.1M167.1,83.6h0.1M162.6,95.1h0.1M193.6,73.2h0.1M187.0,81.1h0.1M197.5,81.9h0.1M194.6,87.6h0.1M188.4,88.0h0.1M127.9,66.8h0.1M122.2,73.3h0.1M135.2,69.0h0.1M123.0,78.1h0.1M73.6,141.6h0.1M63.5,146.3h0.1M66.2,148.7h0.1M35.6,74.6h0.1M34.4,73.0h0.1M24.9,85.3h0.1M21.0,80.6h0.1M23.3,75.3h0.1M59.6,93.2h0.1M54.5,89.5h0.1M69.3,90.0h0.1M22.9,143.3h0.1M29.8,144.9h0.1M33.9,140.5h0.1M27.7,131.4h0.1M13.1,138.8h0.1M74.8,152.4h0.1M81.0,159.8h0.1M211.0,98.8h0.1M213.7,100.5h0.1M217.2,87.0h0.1M212.2,122.5h0.1M213.5,130.2h0.1M203.5,133.2h0.1M211.0,134.1h0.1M208.2,111.2h0.1M202.2,105.6h0.1M197.1,118.8h0.1M204.2,120.1h0.1M204.8,119.8h0.1M205.1,71.4h0.1M205.9,71.9h0.1M213.7,70.1h0.1M213.8,70.0h0.1M112.1,138.8h0.1M164.9,126.8h0.1M166.3,129.9h0.1M162.8,135.7h0.1M143.0,138.4h0.1M133.7,138.9h0.1M127.7,131.0h0.1M98.8,116.1h0.1M91.4,98.9h0.1M90.5,101.7h0.1M83.5,90.2h0.1M78.7,102.7h0.1M104.8,73.0h0.1M97.9,68.0h0.1M95.4,68.5h0.1M109.9,95.2h0.1M117.2,90.4h0.1M154.6,85.5h0.1M155.0,85.8h0.1M140.7,81.9h0.1M146.5,87.3h0.1M137.7,104.2h0.1M140.3,103.8h0.1M134.9,90.7h0.1M143.4,94.2h0.1M115.0,110.9h0.1M119.5,119.8h0.1M125.7,108.9h0.1M149.2,75.7h0.1M147.5,67.9h0.1M140.5,79.3h0.1M136.4,75.8h0.1M33.9,67.4h0.1M69.8,89.3h0.1M82.4,90.1h0.1M79.5,91.7h0.1M46.1,82.4h0.1M54.5,89.2h0.1M45.9,76.4h0.1M48.4,74.4h0.1M62.3,75.4h0.1M69.2,86.2h0.1M59.4,81.4h0.1M59.2,80.7h0.1M48.7,73.5h0.1M25.2,131.4h0.1M19.8,135.1h0.1M13.9,122.1h0.1M172.9,70.3h0.1M161.1,72.1h0.1M159.9,66.5h0.1M151.8,129.8h0.1M102.2,80.3h0.1M105.4,84.7h0.1M92.2,84.6h0.1M80.3,66.6h0.1M70.5,75.0h0.1M79.9,78.7h0.1M82.9,75.9h0.1M83.5,72.8h0.1M54.7,68.7h0.1M136.4,126.5h0.1M133.2,112.7h0.1M157.9,118.5h0.1M145.5,115.7h0.1M144.0,118.1h0.1M144.0,119.6h0.1M71.6,67.5h0.1M73.4,66.0h0.1" stroke="#0c6a65" stroke-width="1.8" opacity="0.5"/>
</g></g>
<rect x="6" y="25.6" width="194" height="41" fill="#d6fbf8" opacity="0.95"/>
<text x="12.80" y="43.3" font-size="12.6" style="" fill="#1a1a1a" stroke="#1a1a1a" class="cal" textLength="45.54" lengthAdjust="spacingAndGlyphs" xml:space="preserve">(Cheng </text>
<text x="58.34" y="43.3" font-size="12.6" style="font-style:italic;" fill="#1a1a1a" stroke="#1a1a1a" class="cal" textLength="24.19" lengthAdjust="spacingAndGlyphs" xml:space="preserve">et al</text>
<text x="82.53" y="43.3" font-size="12.6" style="" fill="#1a1a1a" stroke="#1a1a1a" class="cal" textLength="107.43" lengthAdjust="spacingAndGlyphs" xml:space="preserve">., ACS Appl. Mater.</text>
<text x="10.42" y="58.90" font-size="12.6" style='font-family:"Liberation Sans",sans-serif;' fill="#1a1a1a" textLength="181.78" lengthAdjust="spacingAndGlyphs" stroke="#1a1a1a" class="cal">Interfaces 2015, 7, 2073 - 2081)</text>
<rect x="11.2" y="74.4" width="37.7" height="29.1" fill="#fff"/>
<text x="18.10" y="95.89" font-size="16.4" style='font-family:"Liberation Sans",sans-serif;font-weight:bold;' fill="#111" textLength="21.99" lengthAdjust="spacingAndGlyphs" >(a)</text>
<rect x="4" y="193.5" width="214" height="53.5" fill="#ff8000"/>
<text x="65.33" y="227.00" font-size="15" style='font-family:"Liberation Sans",sans-serif;' fill="#1c1c1c" textLength="91.71" lengthAdjust="spacingAndGlyphs" >Lithium metal</text>
<rect x="61.9" y="185.4" width="13.8" height="13.6" fill="none" stroke="#000" stroke-width="2.1"/>
<line x1="69.5" y1="185.4" x2="236.3" y2="23.8" stroke="#000" stroke-width="2.8"/>
<line x1="75.5" y1="200.6" x2="236" y2="213.8" stroke="#000" stroke-width="2.9"/>
<rect x="237.5" y="25" width="117.2" height="93.6" fill="#8fc400"/>
<rect x="286" y="25" width="28.5" height="93.6" fill="#ffff00"/>
<rect x="237.5" y="118.4" width="117.2" height="91.9" fill="#ff8000"/>
<text x="222.96" y="12.70" font-size="14" style='font-family:"Liberation Sans",sans-serif;' fill="#111" textLength="148.03" lengthAdjust="spacingAndGlyphs" >Grain boundary region</text>
<text x="244.61" y="62.00" font-size="14.5" style='font-family:"Liberation Sans",sans-serif;' fill="#111" textLength="28.10" lengthAdjust="spacingAndGlyphs" >Bulk</text>
<text x="321.41" y="63.20" font-size="14.5" style='font-family:"Liberation Sans",sans-serif;' fill="#111" textLength="27.99" lengthAdjust="spacingAndGlyphs" >Bulk</text>
<rect x="240.4" y="82.2" width="38.7" height="28.6" fill="#fff"/>
<text x="248.05" y="102.69" font-size="16.4" style='font-family:"Liberation Sans",sans-serif;font-weight:bold;' fill="#111" textLength="21.58" lengthAdjust="spacingAndGlyphs" >(b)</text>
<text x="247.92" y="160.00" font-size="15" style='font-family:"Liberation Sans",sans-serif;' fill="#1c1c1c" textLength="92.42" lengthAdjust="spacingAndGlyphs" >Lithium metal</text>
<text x="259.66" y="192.00" font-size="15" style='font-family:"Liberation Sans",sans-serif;' fill="#1c1c1c" textLength="73.72" lengthAdjust="spacingAndGlyphs" >X-Direction</text>
<line x1="300.3" y1="81.8" x2="296.4" y2="18.5" stroke="#222" stroke-width="1.9"/>
<path d="M292.4,23.4 L296.3,17.2 L300.3,22.8" fill="none" stroke="#222" stroke-width="1.6" stroke-linejoin="miter"/>
<g stroke="#29313d" stroke-width="3.7" stroke-linecap="round" stroke-linejoin="round" fill="none">
<line x1="240" y1="200.1" x2="352.5" y2="200.1"/>
<path d="M254.6,192.6 L239.2,200.1 L254.6,207.6"/>
<path d="M338.8,193.2 L352.8,200.1 L338.8,207.2"/>
</g>
<rect x="413.5" y="5.6" width="281.6" height="214.5" fill="none" stroke="#111" stroke-width="1.1"/>
<path d="M413.50,220.1 V209.1 M413.50,5.6 V16.6 M469.82,220.1 V209.1 M469.82,5.6 V16.6 M526.14,220.1 V209.1 M526.14,5.6 V16.6 M582.46,220.1 V209.1 M582.46,5.6 V16.6 M638.78,220.1 V209.1 M638.78,5.6 V16.6 M695.10,220.1 V209.1 M695.10,5.6 V16.6 M413.5,220.10 H425.5 M695.1,220.10 H683.1 M413.5,177.20 H425.5 M695.1,177.20 H683.1 M413.5,134.30 H425.5 M695.1,134.30 H683.1 M413.5,91.40 H425.5 M695.1,91.40 H683.1 M413.5,48.50 H425.5 M695.1,48.50 H683.1 M413.5,5.60 H425.5 M695.1,5.60 H683.1" stroke="#111" stroke-width="1.1" fill="none"/>
<text x="409.99" y="237.60" font-size="12.6" style='font-family:"Liberation Sans",sans-serif;' fill="#111" >0</text>
<text x="462.59" y="237.60" font-size="12.6" style='font-family:"Liberation Sans",sans-serif;' fill="#111" >10</text>
<text x="519.07" y="237.60" font-size="12.6" style='font-family:"Liberation Sans",sans-serif;' fill="#111" >20</text>
<text x="575.47" y="237.60" font-size="12.6" style='font-family:"Liberation Sans",sans-serif;' fill="#111" >30</text>
<text x="631.88" y="237.60" font-size="12.6" style='font-family:"Liberation Sans",sans-serif;' fill="#111" >40</text>
<text x="688.09" y="237.60" font-size="12.6" style='font-family:"Liberation Sans",sans-serif;' fill="#111" >50</text>
<text x="391.38" y="224.60" font-size="13" style='font-family:"Liberation Sans",sans-serif;' fill="#111" >0.8</text>
<text x="401.40" y="181.70" font-size="13" style='font-family:"Liberation Sans",sans-serif;' fill="#111" >1</text>
<text x="391.48" y="138.80" font-size="13" style='font-family:"Liberation Sans",sans-serif;' fill="#111" >1.2</text>
<text x="391.19" y="95.90" font-size="13" style='font-family:"Liberation Sans",sans-serif;' fill="#111" >1.4</text>
<text x="391.38" y="53.00" font-size="13" style='font-family:"Liberation Sans",sans-serif;' fill="#111" >1.6</text>
<text x="391.38" y="10.10" font-size="13" style='font-family:"Liberation Sans",sans-serif;' fill="#111" >1.8</text>
<text x="502.58" y="254.20" font-size="14.2" style='font-family:"Liberation Sans",sans-serif;' fill="#111" textLength="102.64" lengthAdjust="spacingAndGlyphs" >X-Direction [nm]</text>
<g transform="translate(379.3,146) rotate(-90)" fill="#111">
<text x="0.6" y="0" font-size="13.5">i</text>
<text x="4.2" y="7.6" font-size="10.8">BV</text>
<text x="20.5" y="0" font-size="13.5" textLength="23.6" lengthAdjust="spacingAndGlyphs">(x)/I</text>
<text x="44.2" y="7.6" font-size="10.5" textLength="17.6" lengthAdjust="spacingAndGlyphs">app</text>
</g>
<clipPath id="cp"><rect x="413.5" y="5.6" width="281.6" height="214.5"/></clipPath>
<path d="M411.50,181.23 L412.07,181.24 L412.64,181.25 L413.22,181.26 L413.79,181.27 L414.36,181.28 L414.93,181.29 L415.51,181.30 L416.08,181.31 L416.65,181.32 L417.22,181.33 L417.80,181.34 L418.37,181.35 L418.94,181.36 L419.51,181.37 L420.09,181.38 L420.66,181.39 L421.23,181.40 L421.80,181.41 L422.37,181.43 L422.95,181.44 L423.52,181.45 L424.09,181.46 L424.66,181.47 L425.24,181.49 L425.81,181.50 L426.38,181.51 L426.95,181.52 L427.53,181.54 L428.10,181.55 L428.67,181.56 L429.24,181.58 L429.82,181.59 L430.39,181.60 L430.96,181.62 L431.53,181.63 L432.10,181.64 L432.68,181.66 L433.25,181.67 L433.82,181.69 L434.39,181.70 L434.97,181.71 L435.54,181.73 L436.11,181.74 L436.68,181.76 L437.26,181.77 L437.83,181.79 L438.40,181.80 L438.97,181.82 L439.54,181.84 L440.12,181.85 L440.69,181.87 L441.26,181.88 L441.83,181.90 L442.41,181.92 L442.98,181.94 L443.55,181.95 L444.12,181.97 L444.70,181.99 L445.27,182.01 L445.84,182.02 L446.41,182.04 L446.99,182.06 L447.56,182.08 L448.13,182.10 L448.70,182.12 L449.27,182.14 L449.85,182.15 L450.42,182.17 L450.99,182.19 L451.56,182.21 L452.14,182.23 L452.71,182.25 L453.28,182.27 L453.85,182.29 L454.43,182.31 L455.00,182.34 L455.57,182.36 L456.14,182.38 L456.72,182.40 L457.29,182.42 L457.86,182.44 L458.43,182.46 L459.00,182.49 L459.58,182.51 L460.15,182.53 L460.72,182.55 L461.29,182.57 L461.87,182.60 L462.44,182.62 L463.01,182.64 L463.58,182.67 L464.16,182.69 L464.73,182.71 L465.30,182.74 L465.87,182.76 L466.45,182.79 L467.02,182.81 L467.59,182.83 L468.16,182.86 L468.73,182.89 L469.31,182.91 L469.88,182.94 L470.45,182.96 L471.02,182.99 L471.60,183.02 L472.17,183.04 L472.74,183.07 L473.31,183.10 L473.89,183.12 L474.46,183.15 L475.03,183.18 L475.60,183.21 L476.17,183.24 L476.75,183.27 L477.32,183.30 L477.89,183.33 L478.46,183.35 L479.04,183.39 L479.61,183.42 L480.18,183.45 L480.75,183.48 L481.33,183.51 L481.90,183.54 L482.47,183.57 L483.04,183.60 L483.62,183.64 L484.19,183.67 L484.76,183.70 L485.33,183.73 L485.90,183.77 L486.48,183.80 L487.05,183.84 L487.62,183.87 L488.19,183.90 L488.77,183.94 L489.34,183.98 L489.91,184.01 L490.48,184.05 L491.06,184.08 L491.63,184.12 L492.20,184.16 L492.77,184.19 L493.35,184.23 L493.92,184.27 L494.49,184.31 L495.06,184.34 L495.63,184.39 L496.21,184.43 L496.78,184.47 L497.35,184.51 L497.92,184.56 L498.50,184.60 L499.07,184.65 L499.64,184.70 L500.21,184.74 L500.79,184.79 L501.36,184.84 L501.93,184.89 L502.50,184.94 L503.08,184.99 L503.65,185.04 L504.22,185.09 L504.79,185.15 L505.36,185.20 L505.94,185.25 L506.51,185.30 L507.08,185.36 L507.65,185.41 L508.23,185.46 L508.80,185.51 L509.37,185.56 L509.94,185.61 L510.52,185.67 L511.09,185.72 L511.66,185.77 L512.23,185.82 L512.81,185.87 L513.38,185.91 L513.95,185.96 L514.52,186.01 L515.09,186.06 L515.67,186.11 L516.24,186.16 L516.81,186.21 L517.38,186.26 L517.96,186.32 L518.53,186.37 L519.10,186.42 L519.67,186.47 L520.25,186.52 L520.82,186.57 L521.39,186.61 L521.96,186.65 L522.53,186.69 L523.11,186.73 L523.68,186.76 L524.25,186.79 L524.82,186.82 L525.40,186.85 L525.97,186.87 L526.54,186.89 L527.11,186.90 L527.69,186.74 L528.26,186.25 L528.83,185.47 L529.40,184.07 L529.98,182.72 L530.55,181.32 L531.12,179.90 L531.69,178.54 L532.26,177.30 L532.84,176.16 L533.41,175.05 L533.98,173.94 L534.55,172.77 L535.13,171.48 L535.70,170.02 L536.27,168.39 L536.84,166.66 L537.42,164.88 L537.99,163.10 L538.56,161.39 L539.13,159.77 L539.71,158.20 L540.28,156.66 L540.85,155.14 L541.42,153.62 L541.99,152.09 L542.57,150.55 L543.14,148.99 L543.71,147.42 L544.28,145.85 L544.86,144.29 L545.43,142.73 L546.00,141.17 L546.57,139.59 L547.15,138.01 L547.72,136.45 L548.29,134.94 L548.86,133.49 L549.44,132.09 L550.01,130.71 L550.58,129.37 L551.15,128.11 L551.72,126.94 L552.30,125.82 L552.87,124.75 L553.44,124.07 L554.01,123.70 L554.59,123.63 L555.16,123.92 L555.73,124.45 L556.30,125.43 L556.88,126.55 L557.45,127.69 L558.02,128.92 L558.59,130.24 L559.16,131.60 L559.74,133.00 L560.31,134.43 L560.88,135.92 L561.45,137.46 L562.03,139.04 L562.60,140.62 L563.17,142.19 L563.74,143.74 L564.32,145.30 L564.89,146.87 L565.46,148.44 L566.03,150.00 L566.61,151.56 L567.18,153.09 L567.75,154.61 L568.32,156.13 L568.89,157.66 L569.47,159.22 L570.04,160.81 L570.61,162.49 L571.18,164.25 L571.76,166.04 L572.33,167.80 L572.90,169.47 L573.47,170.99 L574.05,172.33 L574.62,173.54 L575.19,174.67 L575.76,175.77 L576.34,176.89 L576.91,178.10 L577.48,179.42 L578.05,180.82 L578.62,182.24 L579.20,183.59 L579.77,185.01 L580.34,186.04 L580.91,186.60 L581.49,186.89 L582.06,186.90 L582.63,186.88 L583.20,186.86 L583.78,186.83 L584.35,186.80 L584.92,186.77 L585.49,186.74 L586.07,186.71 L586.64,186.67 L587.21,186.63 L587.78,186.58 L588.35,186.53 L588.93,186.49 L589.50,186.44 L590.07,186.39 L590.64,186.33 L591.22,186.28 L591.79,186.23 L592.36,186.18 L592.93,186.13 L593.51,186.08 L594.08,186.03 L594.65,185.98 L595.22,185.93 L595.79,185.88 L596.37,185.83 L596.94,185.78 L597.51,185.73 L598.08,185.68 L598.66,185.63 L599.23,185.58 L599.80,185.53 L600.37,185.48 L600.95,185.43 L601.52,185.37 L602.09,185.32 L602.66,185.27 L603.24,185.22 L603.81,185.16 L604.38,185.11 L604.95,185.06 L605.52,185.01 L606.10,184.96 L606.67,184.91 L607.24,184.86 L607.81,184.81 L608.39,184.76 L608.96,184.71 L609.53,184.67 L610.10,184.62 L610.68,184.57 L611.25,184.53 L611.82,184.48 L612.39,184.44 L612.97,184.40 L613.54,184.36 L614.11,184.32 L614.68,184.28 L615.25,184.24 L615.83,184.21 L616.40,184.17 L616.97,184.13 L617.54,184.10 L618.12,184.06 L618.69,184.02 L619.26,183.99 L619.83,183.95 L620.41,183.92 L620.98,183.88 L621.55,183.85 L622.12,183.81 L622.70,183.78 L623.27,183.75 L623.84,183.71 L624.41,183.68 L624.98,183.65 L625.56,183.61 L626.13,183.58 L626.70,183.55 L627.27,183.52 L627.85,183.49 L628.42,183.46 L628.99,183.43 L629.56,183.40 L630.14,183.37 L630.71,183.34 L631.28,183.31 L631.85,183.28 L632.43,183.25 L633.00,183.22 L633.57,183.19 L634.14,183.16 L634.71,183.13 L635.29,183.11 L635.86,183.08 L636.43,183.05 L637.00,183.02 L637.58,183.00 L638.15,182.97 L638.72,182.95 L639.29,182.92 L639.87,182.89 L640.44,182.87 L641.01,182.84 L641.58,182.82 L642.15,182.79 L642.73,182.77 L643.30,182.75 L643.87,182.72 L644.44,182.70 L645.02,182.67 L645.59,182.65 L646.16,182.63 L646.73,182.61 L647.31,182.58 L647.88,182.56 L648.45,182.54 L649.02,182.52 L649.60,182.49 L650.17,182.47 L650.74,182.45 L651.31,182.43 L651.88,182.41 L652.46,182.38 L653.03,182.36 L653.60,182.34 L654.17,182.32 L654.75,182.30 L655.32,182.28 L655.89,182.26 L656.46,182.24 L657.04,182.22 L657.61,182.20 L658.18,182.18 L658.75,182.16 L659.33,182.14 L659.90,182.12 L660.47,182.10 L661.04,182.08 L661.61,182.07 L662.19,182.05 L662.76,182.03 L663.33,182.01 L663.90,181.99 L664.48,181.98 L665.05,181.96 L665.62,181.94 L666.19,181.92 L666.77,181.91 L667.34,181.89 L667.91,181.87 L668.48,181.86 L669.06,181.84 L669.63,181.83 L670.20,181.81 L670.77,181.79 L671.34,181.78 L671.92,181.76 L672.49,181.75 L673.06,181.73 L673.63,181.72 L674.21,181.70 L674.78,181.69 L675.35,181.68 L675.92,181.66 L676.50,181.65 L677.07,181.63 L677.64,181.62 L678.21,181.61 L678.78,181.59 L679.36,181.58 L679.93,181.57 L680.50,181.55 L681.07,181.54 L681.65,181.53 L682.22,181.52 L682.79,181.50 L683.36,181.49 L683.94,181.48 L684.51,181.47 L685.08,181.45 L685.65,181.44 L686.23,181.43 L686.80,181.42 L687.37,181.41 L687.94,181.40 L688.51,181.38 L689.09,181.37 L689.66,181.36 L690.23,181.35 L690.80,181.34 L691.38,181.33 L691.95,181.32 L692.52,181.31 L693.09,181.30 L693.67,181.29 L694.24,181.28 L694.81,181.27 L695.38,181.26 L695.96,181.25 L696.53,181.24 L697.10,181.23" fill="none" stroke="#1030ff" stroke-width="2" stroke-dasharray="8 7.8" stroke-dashoffset="13.8" clip-path="url(#cp)"/>
<path d="M411.50,194.81 L412.07,194.81 L412.64,194.81 L413.22,194.82 L413.79,194.82 L414.36,194.83 L414.93,194.83 L415.51,194.84 L416.08,194.84 L416.65,194.85 L417.22,194.86 L417.80,194.87 L418.37,194.88 L418.94,194.88 L419.51,194.89 L420.09,194.90 L420.66,194.91 L421.23,194.92 L421.80,194.94 L422.37,194.95 L422.95,194.96 L423.52,194.97 L424.09,194.98 L424.66,195.00 L425.24,195.01 L425.81,195.02 L426.38,195.04 L426.95,195.05 L427.53,195.06 L428.10,195.08 L428.67,195.09 L429.24,195.11 L429.82,195.13 L430.39,195.14 L430.96,195.16 L431.53,195.17 L432.10,195.19 L432.68,195.21 L433.25,195.22 L433.82,195.24 L434.39,195.26 L434.97,195.27 L435.54,195.29 L436.11,195.31 L436.68,195.33 L437.26,195.34 L437.83,195.36 L438.40,195.38 L438.97,195.40 L439.54,195.42 L440.12,195.44 L440.69,195.46 L441.26,195.49 L441.83,195.51 L442.41,195.54 L442.98,195.57 L443.55,195.60 L444.12,195.64 L444.70,195.67 L445.27,195.71 L445.84,195.74 L446.41,195.78 L446.99,195.82 L447.56,195.86 L448.13,195.89 L448.70,195.93 L449.27,195.97 L449.85,196.01 L450.42,196.05 L450.99,196.09 L451.56,196.13 L452.14,196.17 L452.71,196.21 L453.28,196.25 L453.85,196.29 L454.43,196.33 L455.00,196.37 L455.57,196.40 L456.14,196.44 L456.72,196.48 L457.29,196.51 L457.86,196.55 L458.43,196.59 L459.00,196.62 L459.58,196.66 L460.15,196.70 L460.72,196.74 L461.29,196.77 L461.87,196.81 L462.44,196.85 L463.01,196.89 L463.58,196.94 L464.16,196.98 L464.73,197.02 L465.30,197.07 L465.87,197.11 L466.45,197.16 L467.02,197.21 L467.59,197.26 L468.16,197.32 L468.73,197.37 L469.31,197.43 L469.88,197.49 L470.45,197.55 L471.02,197.62 L471.60,197.69 L472.17,197.77 L472.74,197.86 L473.31,197.95 L473.89,198.04 L474.46,198.14 L475.03,198.24 L475.60,198.34 L476.17,198.45 L476.75,198.55 L477.32,198.66 L477.89,198.76 L478.46,198.87 L479.04,198.98 L479.61,199.08 L480.18,199.19 L480.75,199.29 L481.33,199.39 L481.90,199.48 L482.47,199.58 L483.04,199.68 L483.62,199.78 L484.19,199.89 L484.76,200.00 L485.33,200.11 L485.90,200.22 L486.48,200.33 L487.05,200.43 L487.62,200.53 L488.19,200.63 L488.77,200.73 L489.34,200.81 L489.91,200.89 L490.48,200.96 L491.06,201.02 L491.63,201.07 L492.20,201.11 L492.77,201.15 L493.35,201.19 L493.92,201.22 L494.49,201.25 L495.06,201.27 L495.63,201.29 L496.21,201.30 L496.78,201.29 L497.35,201.22 L497.92,201.10 L498.50,200.95 L499.07,200.78 L499.64,200.54 L500.21,200.22 L500.79,199.85 L501.36,199.43 L501.93,198.90 L502.50,198.32 L503.08,197.72 L503.65,197.11 L504.22,196.46 L504.79,195.77 L505.36,195.01 L505.94,194.18 L506.51,193.30 L507.08,192.36 L507.65,191.35 L508.23,190.27 L508.80,189.18 L509.37,188.10 L509.94,187.03 L510.52,185.94 L511.09,184.83 L511.66,183.71 L512.23,182.58 L512.81,181.41 L513.38,180.20 L513.95,178.95 L514.52,177.64 L515.09,176.27 L515.67,174.85 L516.24,173.36 L516.81,171.78 L517.38,170.05 L517.96,168.12 L518.53,166.00 L519.10,163.72 L519.67,161.36 L520.25,158.95 L520.82,156.33 L521.39,153.63 L521.96,151.02 L522.53,148.59 L523.11,146.22 L523.68,144.05 L524.25,142.25 L524.82,140.67 L525.40,139.28 L525.97,138.06 L526.54,136.98 L527.11,135.98 L527.69,135.05 L528.26,134.19 L528.83,133.37 L529.40,132.59 L529.98,131.83 L530.55,131.11 L531.12,130.45 L531.69,129.83 L532.26,129.23 L532.84,128.65 L533.41,128.06 L533.98,127.46 L534.55,126.84 L535.13,126.17 L535.70,125.44 L536.27,124.69 L536.84,123.92 L537.42,123.12 L537.99,122.29 L538.56,121.42 L539.13,120.52 L539.71,119.57 L540.28,118.57 L540.85,117.52 L541.42,116.36 L541.99,115.10 L542.57,113.76 L543.14,112.36 L543.71,110.95 L544.28,109.53 L544.86,108.09 L545.43,106.48 L546.00,104.81 L546.57,103.17 L547.15,101.69 L547.72,100.47 L548.29,99.58 L548.86,98.81 L549.44,98.14 L550.01,97.57 L550.58,97.09 L551.15,96.71 L551.72,96.37 L552.30,96.06 L552.87,95.80 L553.44,95.61 L554.01,95.50 L554.59,95.62 L555.16,95.81 L555.73,96.07 L556.30,96.38 L556.88,96.72 L557.45,97.11 L558.02,97.59 L558.59,98.17 L559.16,98.85 L559.74,99.62 L560.31,100.52 L560.88,101.76 L561.45,103.25 L562.03,104.89 L562.60,106.56 L563.17,108.16 L563.74,109.60 L564.32,111.02 L564.89,112.43 L565.46,113.82 L566.03,115.16 L566.61,116.42 L567.18,117.57 L567.75,118.62 L568.32,119.61 L568.89,120.56 L569.47,121.46 L570.04,122.33 L570.61,123.16 L571.18,123.96 L571.76,124.73 L572.33,125.48 L572.90,126.20 L573.47,126.87 L574.05,127.49 L574.62,128.09 L575.19,128.68 L575.76,129.26 L576.34,129.86 L576.91,130.48 L577.48,131.15 L578.05,131.87 L578.62,132.62 L579.20,133.41 L579.77,134.23 L580.34,135.10 L580.91,136.02 L581.49,137.03 L582.06,138.12 L582.63,139.34 L583.20,140.75 L583.78,142.33 L584.35,144.15 L584.92,146.33 L585.49,148.71 L586.07,151.14 L586.64,153.76 L587.21,156.46 L587.78,159.07 L588.35,161.48 L588.93,163.84 L589.50,166.10 L590.07,168.22 L590.64,170.14 L591.22,171.86 L591.79,173.44 L592.36,174.92 L592.93,176.34 L593.51,177.71 L594.08,179.01 L594.65,180.25 L595.22,181.47 L595.79,182.63 L596.37,183.77 L596.94,184.88 L597.51,185.99 L598.08,187.08 L598.66,188.16 L599.23,189.23 L599.80,190.33 L600.37,191.40 L600.95,192.41 L601.52,193.34 L602.09,194.23 L602.66,195.05 L603.24,195.80 L603.81,196.49 L604.38,197.14 L604.95,197.75 L605.52,198.35 L606.10,198.93 L606.67,199.45 L607.24,199.87 L607.81,200.24 L608.39,200.56 L608.96,200.79 L609.53,200.96 L610.10,201.11 L610.68,201.23 L611.25,201.29 L611.82,201.30 L612.39,201.29 L612.97,201.27 L613.54,201.25 L614.11,201.22 L614.68,201.18 L615.25,201.15 L615.83,201.11 L616.40,201.07 L616.97,201.02 L617.54,200.96 L618.12,200.89 L618.69,200.81 L619.26,200.72 L619.83,200.63 L620.41,200.53 L620.98,200.43 L621.55,200.32 L622.12,200.21 L622.70,200.10 L623.27,199.99 L623.84,199.88 L624.41,199.78 L624.98,199.67 L625.56,199.57 L626.13,199.48 L626.70,199.38 L627.27,199.28 L627.85,199.18 L628.42,199.08 L628.99,198.97 L629.56,198.87 L630.14,198.76 L630.71,198.65 L631.28,198.55 L631.85,198.44 L632.43,198.34 L633.00,198.23 L633.57,198.13 L634.14,198.04 L634.71,197.94 L635.29,197.85 L635.86,197.77 L636.43,197.69 L637.00,197.61 L637.58,197.55 L638.15,197.48 L638.72,197.43 L639.29,197.37 L639.87,197.31 L640.44,197.26 L641.01,197.21 L641.58,197.16 L642.15,197.11 L642.73,197.07 L643.30,197.02 L643.87,196.98 L644.44,196.93 L645.02,196.89 L645.59,196.85 L646.16,196.81 L646.73,196.77 L647.31,196.73 L647.88,196.70 L648.45,196.66 L649.02,196.62 L649.60,196.58 L650.17,196.55 L650.74,196.51 L651.31,196.47 L651.88,196.44 L652.46,196.40 L653.03,196.36 L653.60,196.33 L654.17,196.29 L654.75,196.25 L655.32,196.21 L655.89,196.17 L656.46,196.13 L657.04,196.09 L657.61,196.05 L658.18,196.01 L658.75,195.97 L659.33,195.93 L659.90,195.89 L660.47,195.85 L661.04,195.81 L661.61,195.78 L662.19,195.74 L662.76,195.70 L663.33,195.67 L663.90,195.64 L664.48,195.60 L665.05,195.57 L665.62,195.54 L666.19,195.51 L666.77,195.49 L667.34,195.46 L667.91,195.44 L668.48,195.42 L669.06,195.40 L669.63,195.38 L670.20,195.36 L670.77,195.34 L671.34,195.33 L671.92,195.31 L672.49,195.29 L673.06,195.27 L673.63,195.26 L674.21,195.24 L674.78,195.22 L675.35,195.21 L675.92,195.19 L676.50,195.17 L677.07,195.16 L677.64,195.14 L678.21,195.12 L678.78,195.11 L679.36,195.09 L679.93,195.08 L680.50,195.06 L681.07,195.05 L681.65,195.04 L682.22,195.02 L682.79,195.01 L683.36,195.00 L683.94,194.98 L684.51,194.97 L685.08,194.96 L685.65,194.95 L686.23,194.93 L686.80,194.92 L687.37,194.91 L687.94,194.90 L688.51,194.89 L689.09,194.88 L689.66,194.87 L690.23,194.87 L690.80,194.86 L691.38,194.85 L691.95,194.84 L692.52,194.84 L693.09,194.83 L693.67,194.83 L694.24,194.82 L694.81,194.82 L695.38,194.81 L695.96,194.81 L696.53,194.81 L697.10,194.80" fill="none" stroke="#ff1a0a" stroke-width="2" stroke-dasharray="8.6 2.5 2.2 2.3" stroke-dashoffset="13.6" clip-path="url(#cp)"/>
<path d="M411.50,202.20 L412.07,202.21 L412.64,202.21 L413.22,202.21 L413.79,202.22 L414.36,202.22 L414.93,202.23 L415.51,202.23 L416.08,202.24 L416.65,202.25 L417.22,202.25 L417.80,202.26 L418.37,202.27 L418.94,202.28 L419.51,202.29 L420.09,202.30 L420.66,202.31 L421.23,202.32 L421.80,202.33 L422.37,202.34 L422.95,202.36 L423.52,202.37 L424.09,202.38 L424.66,202.40 L425.24,202.41 L425.81,202.42 L426.38,202.44 L426.95,202.45 L427.53,202.47 L428.10,202.49 L428.67,202.50 L429.24,202.52 L429.82,202.53 L430.39,202.55 L430.96,202.57 L431.53,202.59 L432.10,202.61 L432.68,202.62 L433.25,202.64 L433.82,202.66 L434.39,202.68 L434.97,202.70 L435.54,202.72 L436.11,202.74 L436.68,202.76 L437.26,202.78 L437.83,202.80 L438.40,202.82 L438.97,202.84 L439.54,202.86 L440.12,202.89 L440.69,202.91 L441.26,202.93 L441.83,202.96 L442.41,202.99 L442.98,203.02 L443.55,203.06 L444.12,203.09 L444.70,203.13 L445.27,203.18 L445.84,203.22 L446.41,203.26 L446.99,203.31 L447.56,203.36 L448.13,203.41 L448.70,203.46 L449.27,203.51 L449.85,203.56 L450.42,203.62 L450.99,203.67 L451.56,203.72 L452.14,203.78 L452.71,203.83 L453.28,203.89 L453.85,203.94 L454.43,203.99 L455.00,204.05 L455.57,204.10 L456.14,204.16 L456.72,204.21 L457.29,204.27 L457.86,204.33 L458.43,204.39 L459.00,204.45 L459.58,204.51 L460.15,204.57 L460.72,204.63 L461.29,204.70 L461.87,204.76 L462.44,204.82 L463.01,204.89 L463.58,204.96 L464.16,205.02 L464.73,205.09 L465.30,205.16 L465.87,205.23 L466.45,205.30 L467.02,205.37 L467.59,205.44 L468.16,205.51 L468.73,205.58 L469.31,205.65 L469.88,205.72 L470.45,205.79 L471.02,205.87 L471.60,205.94 L472.17,206.01 L472.74,206.09 L473.31,206.17 L473.89,206.24 L474.46,206.32 L475.03,206.40 L475.60,206.48 L476.17,206.56 L476.75,206.64 L477.32,206.72 L477.89,206.80 L478.46,206.89 L479.04,206.97 L479.61,207.06 L480.18,207.14 L480.75,207.23 L481.33,207.31 L481.90,207.40 L482.47,207.49 L483.04,207.57 L483.62,207.66 L484.19,207.75 L484.76,207.84 L485.33,207.94 L485.90,208.05 L486.48,208.17 L487.05,208.30 L487.62,208.42 L488.19,208.55 L488.77,208.68 L489.34,208.81 L489.91,208.93 L490.48,209.05 L491.06,209.16 L491.63,209.25 L492.20,209.34 L492.77,209.40 L493.35,209.46 L493.92,209.49 L494.49,209.50 L495.06,209.50 L495.63,209.50 L496.21,209.50 L496.78,209.50 L497.35,209.50 L497.92,209.50 L498.50,209.45 L499.07,209.30 L499.64,209.08 L500.21,208.83 L500.79,208.56 L501.36,208.19 L501.93,207.76 L502.50,207.30 L503.08,206.82 L503.65,206.32 L504.22,205.79 L504.79,205.23 L505.36,204.62 L505.94,203.98 L506.51,203.29 L507.08,202.47 L507.65,201.57 L508.23,200.71 L508.80,199.87 L509.37,199.03 L509.94,198.17 L510.52,197.26 L511.09,196.27 L511.66,195.18 L512.23,193.87 L512.81,192.47 L513.38,191.12 L513.95,189.81 L514.52,188.49 L515.09,187.13 L515.67,185.68 L516.24,184.10 L516.81,182.36 L517.38,180.47 L517.96,178.48 L518.53,176.39 L519.10,174.23 L519.67,171.88 L520.25,169.43 L520.82,167.01 L521.39,164.59 L521.96,162.18 L522.53,159.86 L523.11,157.64 L523.68,155.49 L524.25,153.39 L524.82,151.35 L525.40,149.37 L525.97,147.43 L526.54,145.52 L527.11,143.62 L527.69,141.72 L528.26,139.82 L528.83,138.01 L529.40,136.23 L529.98,134.40 L530.55,132.45 L531.12,130.32 L531.69,127.90 L532.26,125.17 L532.84,122.22 L533.41,119.13 L533.98,115.99 L534.55,112.87 L535.13,109.86 L535.70,107.04 L536.27,104.37 L536.84,101.78 L537.42,99.25 L537.99,96.73 L538.56,94.19 L539.13,91.60 L539.71,88.93 L540.28,86.13 L540.85,83.18 L541.42,80.13 L541.99,76.97 L542.57,73.71 L543.14,70.36 L543.71,66.91 L544.28,63.36 L544.86,59.66 L545.43,55.62 L546.00,51.38 L546.57,47.08 L547.15,42.90 L547.72,38.98 L548.29,35.47 L548.86,32.06 L549.44,28.71 L550.01,25.68 L550.58,23.25 L551.15,21.65 L551.72,20.36 L552.30,19.19 L552.87,18.19 L553.44,17.42 L554.01,16.94 L554.59,16.80 L555.16,17.05 L555.73,17.62 L556.30,18.47 L556.88,19.52 L557.45,20.74 L558.02,22.05 L558.59,23.90 L559.16,26.54 L559.74,29.69 L560.31,33.09 L560.88,36.48 L561.45,40.12 L562.03,44.13 L562.60,48.37 L563.17,52.67 L563.74,56.87 L564.32,60.81 L564.89,64.44 L565.46,67.96 L566.03,71.38 L566.61,74.71 L567.18,77.93 L567.75,81.06 L568.32,84.08 L568.89,86.99 L569.47,89.75 L570.04,92.39 L570.61,94.96 L571.18,97.49 L571.76,100.01 L572.33,102.55 L572.90,105.16 L573.47,107.87 L574.05,110.75 L574.62,113.80 L575.19,116.93 L575.76,120.07 L576.34,123.13 L576.91,126.02 L577.48,128.66 L578.05,130.98 L578.62,133.05 L579.20,134.96 L579.77,136.77 L580.34,138.55 L580.91,140.38 L581.49,142.29 L582.06,144.19 L582.63,146.10 L583.20,148.01 L583.78,149.96 L584.35,151.96 L584.92,154.02 L585.49,156.13 L586.07,158.30 L586.64,160.55 L587.21,162.90 L587.78,165.32 L588.35,167.73 L588.93,170.17 L589.50,172.60 L590.07,174.89 L590.64,177.03 L591.22,179.09 L591.79,181.06 L592.36,182.90 L592.93,184.59 L593.51,186.13 L594.08,187.55 L594.65,188.89 L595.22,190.20 L595.79,191.52 L596.37,192.89 L596.94,194.28 L597.51,195.52 L598.08,196.58 L598.66,197.54 L599.23,198.43 L599.80,199.29 L600.37,200.12 L600.95,200.97 L601.52,201.84 L602.09,202.73 L602.66,203.50 L603.24,204.18 L603.81,204.81 L604.38,205.40 L604.95,205.95 L605.52,206.48 L606.10,206.97 L606.67,207.44 L607.24,207.90 L607.81,208.31 L608.39,208.65 L608.96,208.91 L609.53,209.15 L610.10,209.36 L610.68,209.48 L611.25,209.50 L611.82,209.50 L612.39,209.50 L612.97,209.50 L613.54,209.50 L614.11,209.50 L614.68,209.50 L615.25,209.48 L615.83,209.44 L616.40,209.38 L616.97,209.31 L617.54,209.22 L618.12,209.12 L618.69,209.01 L619.26,208.90 L619.83,208.77 L620.41,208.64 L620.98,208.51 L621.55,208.39 L622.12,208.26 L622.70,208.14 L623.27,208.02 L623.84,207.91 L624.41,207.81 L624.98,207.72 L625.56,207.64 L626.13,207.55 L626.70,207.46 L627.27,207.37 L627.85,207.29 L628.42,207.20 L628.99,207.11 L629.56,207.03 L630.14,206.95 L630.71,206.86 L631.28,206.78 L631.85,206.70 L632.43,206.62 L633.00,206.54 L633.57,206.46 L634.14,206.38 L634.71,206.30 L635.29,206.22 L635.86,206.14 L636.43,206.07 L637.00,205.99 L637.58,205.92 L638.15,205.84 L638.72,205.77 L639.29,205.70 L639.87,205.63 L640.44,205.56 L641.01,205.49 L641.58,205.42 L642.15,205.35 L642.73,205.28 L643.30,205.21 L643.87,205.14 L644.44,205.07 L645.02,205.00 L645.59,204.94 L646.16,204.87 L646.73,204.81 L647.31,204.74 L647.88,204.68 L648.45,204.61 L649.02,204.55 L649.60,204.49 L650.17,204.43 L650.74,204.37 L651.31,204.31 L651.88,204.25 L652.46,204.20 L653.03,204.14 L653.60,204.08 L654.17,204.03 L654.75,203.98 L655.32,203.92 L655.89,203.87 L656.46,203.82 L657.04,203.76 L657.61,203.71 L658.18,203.65 L658.75,203.60 L659.33,203.55 L659.90,203.50 L660.47,203.44 L661.04,203.39 L661.61,203.34 L662.19,203.30 L662.76,203.25 L663.33,203.21 L663.90,203.16 L664.48,203.12 L665.05,203.08 L665.62,203.05 L666.19,203.01 L666.77,202.98 L667.34,202.95 L667.91,202.92 L668.48,202.90 L669.06,202.88 L669.63,202.86 L670.20,202.84 L670.77,202.82 L671.34,202.79 L671.92,202.77 L672.49,202.75 L673.06,202.73 L673.63,202.71 L674.21,202.69 L674.78,202.67 L675.35,202.66 L675.92,202.64 L676.50,202.62 L677.07,202.60 L677.64,202.58 L678.21,202.56 L678.78,202.55 L679.36,202.53 L679.93,202.51 L680.50,202.50 L681.07,202.48 L681.65,202.46 L682.22,202.45 L682.79,202.43 L683.36,202.42 L683.94,202.41 L684.51,202.39 L685.08,202.38 L685.65,202.37 L686.23,202.35 L686.80,202.34 L687.37,202.33 L687.94,202.32 L688.51,202.31 L689.09,202.30 L689.66,202.29 L690.23,202.28 L690.80,202.27 L691.38,202.26 L691.95,202.25 L692.52,202.24 L693.09,202.24 L693.67,202.23 L694.24,202.23 L694.81,202.22 L695.38,202.22 L695.96,202.21 L696.53,202.21 L697.10,202.21" fill="none" stroke="#000" stroke-width="2.1" clip-path="url(#cp)"/>
<rect x="405" y="11.2" width="144" height="24" fill="#fff"/>
<text x="406.93" y="26.80" font-size="13" style='font-family:"Liberation Serif",serif;font-style:italic;' fill="#383838" textLength="3.90" lengthAdjust="spacingAndGlyphs" >i</text>
<text x="410.73" y="29.70" font-size="7.7" style='font-family:"Liberation Serif",serif;font-style:italic;' fill="#383838" textLength="8.32" lengthAdjust="spacingAndGlyphs" >BV</text>
<text x="421.15" y="27.62" font-size="16" style='font-family:"Liberation Serif",serif;' fill="#383838" textLength="4.05" lengthAdjust="spacingAndGlyphs" >(</text>
<text x="426.85" y="26.80" font-size="13" style='font-family:"Liberation Serif",serif;font-style:italic;' fill="#383838" textLength="5.33" lengthAdjust="spacingAndGlyphs" >x</text>
<text x="433.17" y="27.62" font-size="16" style='font-family:"Liberation Serif",serif;' fill="#383838" textLength="4.40" lengthAdjust="spacingAndGlyphs" >)</text>
<text x="438.66" y="27.85" font-size="13" style='font-family:"Liberation Serif",serif;' fill="#383838" textLength="8.37" lengthAdjust="spacingAndGlyphs" >=</text>
<text x="448.60" y="26.80" font-size="13" style='font-family:"Liberation Serif",serif;font-style:italic;' fill="#383838" textLength="4.04" lengthAdjust="spacingAndGlyphs" >i</text>
<text x="452.33" y="29.70" font-size="7.7" style='font-family:"Liberation Serif",serif;font-style:italic;' fill="#383838" textLength="8.13" lengthAdjust="spacingAndGlyphs" >BV</text>
<text x="463.28" y="28.45" font-size="19.5" style='font-family:"Liberation Serif",serif;' fill="#383838" textLength="4.57" lengthAdjust="spacingAndGlyphs" >(</text>
<text x="467.69" y="26.60" font-size="12.5" style='font-family:"Liberation Serif",serif;' fill="#383838" textLength="7.03" lengthAdjust="spacingAndGlyphs" >Δ</text>
<text x="474.70" y="26.38" font-size="13" style='font-family:"Liberation Serif",serif;font-style:italic;' fill="#383838" textLength="7.52" lengthAdjust="spacingAndGlyphs" >μ</text>
<text x="482.69" y="31.60" font-size="6.5" style='font-family:"Liberation Serif",serif;font-style:italic;' fill="#383838" textLength="3.05" lengthAdjust="spacingAndGlyphs" >e</text>
<text x="485.77" y="27.84" font-size="6" style='font-family:"Liberation Serif",serif;' fill="#383838" textLength="2.95" lengthAdjust="spacingAndGlyphs" >-</text>
<text x="491.92" y="27.62" font-size="16" style='font-family:"Liberation Serif",serif;' fill="#383838" textLength="3.53" lengthAdjust="spacingAndGlyphs" >(</text>
<text x="496.35" y="26.80" font-size="13" style='font-family:"Liberation Serif",serif;font-style:italic;' fill="#383838" textLength="5.43" lengthAdjust="spacingAndGlyphs" >x</text>
<text x="502.86" y="27.62" font-size="16" style='font-family:"Liberation Serif",serif;' fill="#383838" textLength="3.49" lengthAdjust="spacingAndGlyphs" >)</text>
<text x="507.42" y="26.73" font-size="13" style='font-family:"Liberation Serif",serif;' fill="#383838" textLength="3.17" lengthAdjust="spacingAndGlyphs" >,</text>
<text x="511.06" y="26.80" font-size="13" style='font-family:"Liberation Serif",serif;font-style:italic;' fill="#383838" textLength="4.96" lengthAdjust="spacingAndGlyphs" >c</text>
<text x="516.79" y="31.90" font-size="6.8" style='font-family:"Liberation Serif",serif;font-style:italic;' fill="#383838" textLength="5.73" lengthAdjust="spacingAndGlyphs" >Li</text>
<text x="523.13" y="29.01" font-size="5.5" style='font-family:"Liberation Serif",serif;' fill="#383838" textLength="3.03" lengthAdjust="spacingAndGlyphs" >+</text>
<text x="528.34" y="28.22" font-size="16" style='font-family:"Liberation Serif",serif;' fill="#383838" textLength="3.40" lengthAdjust="spacingAndGlyphs" >(</text>
<text x="533.65" y="26.80" font-size="13" style='font-family:"Liberation Serif",serif;font-style:italic;' fill="#383838" textLength="5.43" lengthAdjust="spacingAndGlyphs" >x</text>
<text x="539.92" y="28.22" font-size="16" style='font-family:"Liberation Serif",serif;' fill="#383838" textLength="3.88" lengthAdjust="spacingAndGlyphs" >)</text>
<text x="543.83" y="28.15" font-size="19.5" style='font-family:"Liberation Serif",serif;' fill="#383838" textLength="4.78" lengthAdjust="spacingAndGlyphs" >)</text>
<text x="420.47" y="61.00" font-size="11.2" style='font-family:"Liberation Sans",sans-serif;font-weight:bold;' fill="#111" textLength="58.20" lengthAdjust="spacingAndGlyphs" >Mechanical</text>
<text x="418.94" y="75.00" font-size="11.2" style='font-family:"Liberation Sans",sans-serif;font-weight:bold;' fill="#111" textLength="60.49" lengthAdjust="spacingAndGlyphs" >stress effect</text>
<text x="462.78" y="94.00" font-size="11.2" style='font-family:"Liberation Sans",sans-serif;font-weight:bold;' fill="#111" textLength="70.75" lengthAdjust="spacingAndGlyphs" >Concentration</text>
<text x="483.37" y="107.90" font-size="11.2" style='font-family:"Liberation Sans",sans-serif;font-weight:bold;' fill="#111" textLength="28.56" lengthAdjust="spacingAndGlyphs" >effect</text>
<text x="426.27" y="159.35" font-size="16.9" style='font-family:"Liberation Sans",sans-serif;font-weight:bold;' fill="#111" textLength="17.97" lengthAdjust="spacingAndGlyphs" >(c)</text>
<g stroke="#ff1a0a" stroke-width="2.1" fill="#ff1a0a" stroke-linecap="butt" stroke-linejoin="round">
<line x1="469.7" y1="51.8" x2="481.2" y2="37.7"/>
<path d="M483.6,34.7 L475.5,38.7 L480.8,38.4 L482.4,42.5 Z" stroke-width="1.6"/>
<line x1="508.3" y1="82.6" x2="521.0" y2="39.3"/>
<path d="M522.2,35.2 L516.0,41.6 L520.8,39.8 L523.8,44.0 Z" stroke-width="1.6"/>
</g>
<text x="608.13" y="86.70" font-size="12.3" style='font-family:"Liberation Serif",serif;font-style:italic;' fill="#333" textLength="3.91" lengthAdjust="spacingAndGlyphs" >I</text>
<text x="612.67" y="90.00" font-size="6.6" style='font-family:"Liberation Serif",serif;font-style:italic;' fill="#333" textLength="11.35" lengthAdjust="spacingAndGlyphs" >app</text>
<text x="627.06" y="86.01" font-size="9" style='font-family:"Liberation Serif",serif;' fill="#333" textLength="6.69" lengthAdjust="spacingAndGlyphs" >~</text>
<text x="635.87" y="86.70" font-size="12.3" style='font-family:"Liberation Serif",serif;' fill="#333" textLength="14.67" lengthAdjust="spacingAndGlyphs" >1.0</text>
<text x="653.17" y="86.70" font-size="12.3" style='font-family:"Liberation Serif",serif;font-style:italic;' fill="#333" textLength="6.38" lengthAdjust="spacingAndGlyphs" >A</text>
<text x="659.70" y="88.54" font-size="19" style='font-family:"Liberation Serif",serif;' fill="#333" textLength="5.31" lengthAdjust="spacingAndGlyphs" >/</text>
<text x="665.39" y="86.70" font-size="12.3" style='font-family:"Liberation Serif",serif;font-style:italic;' fill="#333" textLength="9.78" lengthAdjust="spacingAndGlyphs" >m</text>
<text x="674.98" y="81.54" font-size="7" style='font-family:"Liberation Serif",serif;' fill="#333" textLength="4.63" lengthAdjust="spacingAndGlyphs" >2</text>
<rect x="564" y="11.6" width="159.3" height="44.8" fill="#fff" stroke="#222" stroke-width="1.1"/>
<line x1="566.7" y1="20.5" x2="586" y2="20.5" stroke="#000" stroke-width="2.1"/>
<line x1="566.7" y1="34.6" x2="586" y2="34.6" stroke="#ff1a0a" stroke-width="2" stroke-dasharray="7.2 2.6 2.6 2.6"/>
<line x1="566.7" y1="48.6" x2="586" y2="48.6" stroke="#1030ff" stroke-width="2" stroke-dasharray="7.6 8"/>
<text x="588.24" y="24.60" font-size="11.6" style='font-family:"Liberation Sans",sans-serif;' fill="#111" >Total current</text>
<text x="587.53" y="38.70" font-size="11.6" style='font-family:"Liberation Sans",sans-serif;' fill="#111" textLength="131.26" lengthAdjust="spacingAndGlyphs" >Mechanical stress effects</text>
<text x="587.92" y="52.80" font-size="11.6" style='font-family:"Liberation Sans",sans-serif;' fill="#111" >Concentration effects</text>
</svg></body></html>
